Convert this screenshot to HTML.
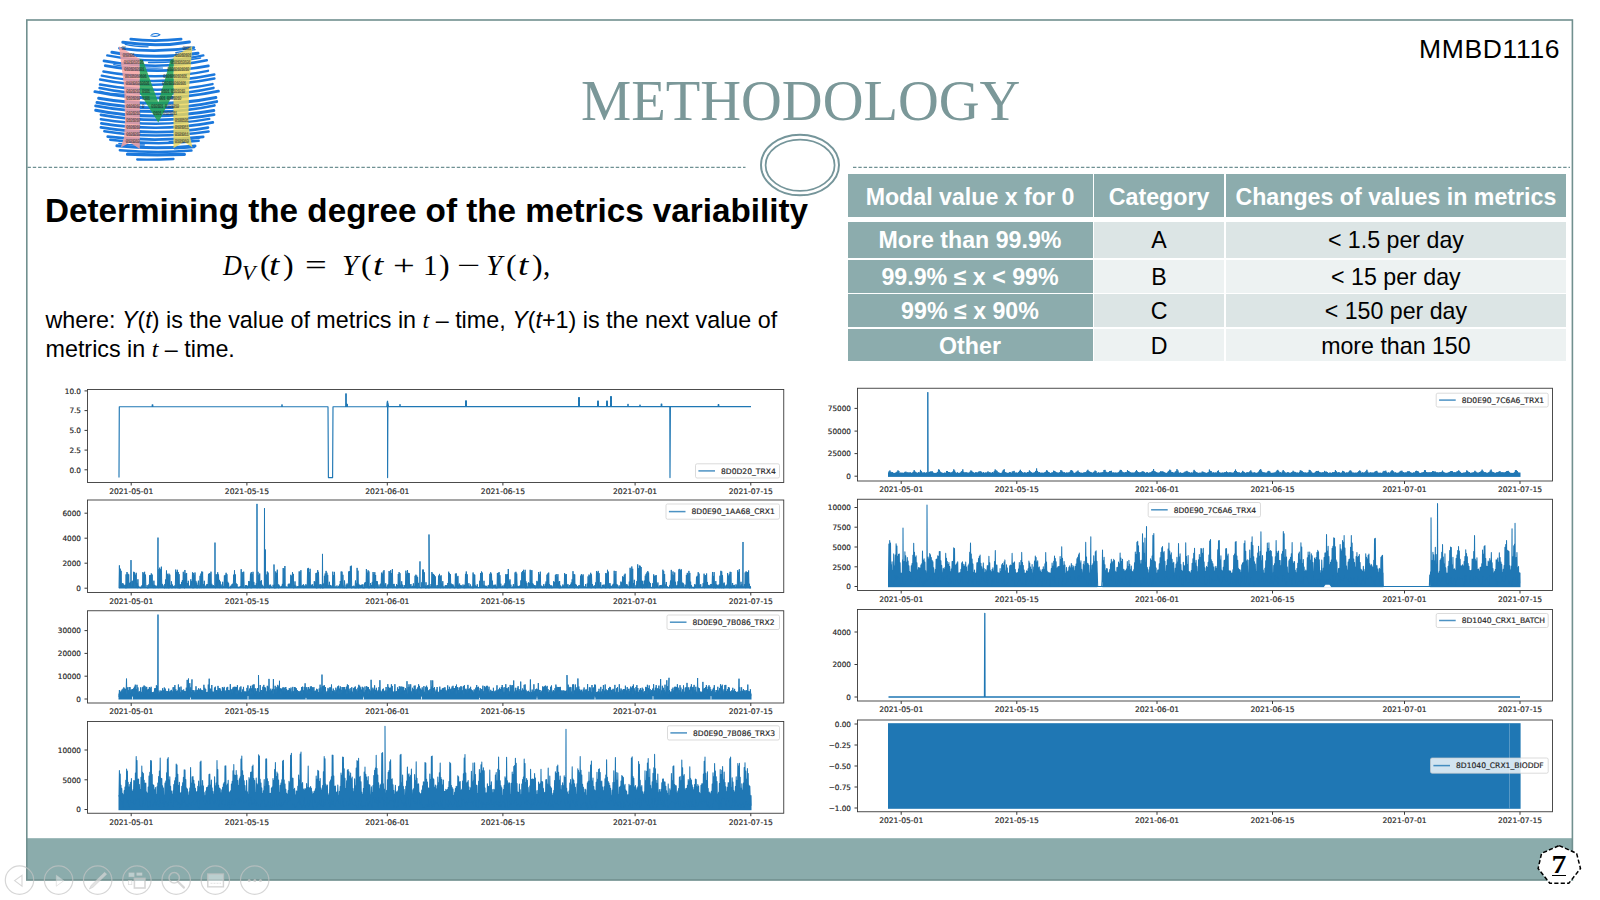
<!DOCTYPE html>
<html lang="en"><head><meta charset="utf-8"><title>Methodology</title>
<style>
html,body{margin:0;padding:0;background:#fff;}
body{width:1600px;height:900px;position:relative;overflow:hidden;font-family:"Liberation Sans",sans-serif;color:#000;}
.abs{position:absolute;white-space:nowrap;line-height:1;}
#bg{position:absolute;left:0;top:0;width:1600px;height:900px;}
#title{left:581px;top:72.6px;font-family:"Liberation Serif",serif;font-size:56.5px;color:#7b9899;letter-spacing:0px;}
#code{left:1419px;top:36px;font-size:26.5px;letter-spacing:0.65px;}
#h1{left:45px;top:194.4px;font-weight:bold;font-size:33.25px;}
#formula{left:0px;top:251px;font-family:"Liberation Serif",serif;font-style:italic;font-size:29px;}
#body1{left:45.5px;top:306px;font-size:23.32px;line-height:28.75px;white-space:normal;width:760px;}
#body1 i.m{font-family:"Liberation Serif",serif;font-size:24px;}
.tc{position:absolute;white-space:nowrap;text-align:center;font-size:23.2px;overflow:hidden;}
.tc.h{background:#8cacad;color:#fff;font-weight:bold;}
.tc.a{background:#dce5e5;}
.tc.b{background:#edf2f2;}
.tc span{position:relative;}
#formula span{position:absolute;top:0;font-style:normal;transform-origin:0 50%;}
#formula i{position:absolute;top:0;transform-origin:0 50%;}
#pg{left:1539.3px;top:852.2px;width:40px;text-align:center;font-family:"Liberation Serif",serif;font-weight:bold;font-size:25.5px;transform:scaleX(1.17);}
#pgu{left:1552.4px;top:874.8px;width:13.6px;height:1.1px;background:#000;}
</style></head><body>
<svg id="bg" width="1600" height="900" viewBox="0 0 1600 900">
<rect x="26.8" y="838.2" width="1545.6" height="42" fill="#8bacac"/>
<rect x="26.8" y="20" width="1545.6" height="860" fill="none" stroke="#71908f" stroke-width="1.6"/>
<path d="M27.5 167.4H745.5M853 167.4H1570" stroke="#6f9193" stroke-width="1.2" stroke-dasharray="3.4 1.9" fill="none"/>
<ellipse cx="800" cy="165" rx="39" ry="30.3" fill="#fff" stroke="#75959a" stroke-width="1.95"/>
<ellipse cx="800.1" cy="165.2" rx="34.5" ry="25.7" fill="none" stroke="#75959a" stroke-width="1.75"/>
<g id="logo"><path d="M151.8 34.5q4.5 -2 8 .3q-3 2.6 -9 1" fill="none" stroke="#1b78dc" stroke-width="1.1" stroke-linecap="round"/><path d="M130.8 39.2Q153.4 41.9 181.1 39.2" fill="none" stroke="#1b78dc" stroke-width="2.8" stroke-linecap="round"/><path d="M122.8 42.3Q157.6 47.4 189.4 41.9" fill="none" stroke="#1b78dc" stroke-width="3.0" stroke-linecap="round"/><path d="M125.2 44.3Q134.2 46.6 148.1 46.8" fill="none" stroke="#1b78dc" stroke-width="1.2" stroke-linecap="round"/><path d="M119.5 48.3Q156.7 53.2 193.8 47.6" fill="none" stroke="#1b78dc" stroke-width="2.8" stroke-linecap="round"/><path d="M175.8 52.6Q183.8 51.5 195.2 49.7" fill="none" stroke="#1b78dc" stroke-width="1.3" stroke-linecap="round"/><path d="M111.9 52.3Q151.0 59.9 198.0 53.3" fill="none" stroke="#1b78dc" stroke-width="3.0" stroke-linecap="round"/><path d="M177.6 56.5Q182.3 55.4 193.6 54.7" fill="none" stroke="#1b78dc" stroke-width="1.3" stroke-linecap="round"/><path d="M107.2 55.4Q157.7 65.4 203.4 55.4" fill="none" stroke="#1b78dc" stroke-width="2.3" stroke-linecap="round"/><path d="M148.6 62.5Q172.3 63.2 200.6 58.0" fill="none" stroke="#1b78dc" stroke-width="1.5" stroke-linecap="round"/><path d="M103.9 60.9Q158.2 70.8 206.8 60.3" fill="none" stroke="#1b78dc" stroke-width="2.6" stroke-linecap="round"/><path d="M113.7 64.7Q134.8 69.1 162.5 68.0" fill="none" stroke="#1b78dc" stroke-width="1.2" stroke-linecap="round"/><path d="M105.2 65.7Q157.4 75.6 208.4 65.9" fill="none" stroke="#1b78dc" stroke-width="2.7" stroke-linecap="round"/><path d="M103.4 71.5Q157.6 81.4 208.0 70.8" fill="none" stroke="#1b78dc" stroke-width="2.4" stroke-linecap="round"/><path d="M101.7 75.7Q154.3 86.9 214.4 74.5" fill="none" stroke="#1b78dc" stroke-width="2.3" stroke-linecap="round"/><path d="M100.1 79.5Q154.6 90.5 214.4 78.6" fill="none" stroke="#1b78dc" stroke-width="2.5" stroke-linecap="round"/><path d="M100.0 84.6Q159.6 95.2 212.5 84.1" fill="none" stroke="#1b78dc" stroke-width="2.5" stroke-linecap="round"/><path d="M99.6 88.0Q157.2 100.3 213.5 87.9" fill="none" stroke="#1b78dc" stroke-width="2.6" stroke-linecap="round"/><path d="M99.7 91.0Q108.8 93.6 125.6 94.4" fill="none" stroke="#1b78dc" stroke-width="1.1" stroke-linecap="round"/><path d="M94.9 91.7Q155.2 104.5 218.4 91.2" fill="none" stroke="#1b78dc" stroke-width="2.9" stroke-linecap="round"/><path d="M98.6 98.3Q159.6 108.8 215.9 97.5" fill="none" stroke="#1b78dc" stroke-width="2.9" stroke-linecap="round"/><path d="M97.0 102.5Q159.8 113.7 216.7 101.6" fill="none" stroke="#1b78dc" stroke-width="3.0" stroke-linecap="round"/><path d="M95.6 105.9Q159.0 117.6 214.4 105.5" fill="none" stroke="#1b78dc" stroke-width="2.8" stroke-linecap="round"/><path d="M95.7 110.3Q151.4 121.6 213.8 110.6" fill="none" stroke="#1b78dc" stroke-width="3.0" stroke-linecap="round"/><path d="M100.9 114.8Q158.5 124.9 214.1 114.7" fill="none" stroke="#1b78dc" stroke-width="2.7" stroke-linecap="round"/><path d="M100.8 119.2Q158.3 128.3 209.3 118.9" fill="none" stroke="#1b78dc" stroke-width="2.4" stroke-linecap="round"/><path d="M101.3 123.4Q159.5 132.5 212.9 122.4" fill="none" stroke="#1b78dc" stroke-width="2.6" stroke-linecap="round"/><path d="M100.9 127.4Q157.1 136.6 208.0 127.6" fill="none" stroke="#1b78dc" stroke-width="2.7" stroke-linecap="round"/><path d="M104.3 131.3Q154.1 139.7 208.6 131.5" fill="none" stroke="#1b78dc" stroke-width="2.5" stroke-linecap="round"/><path d="M107.7 136.7Q152.1 142.3 203.2 136.9" fill="none" stroke="#1b78dc" stroke-width="2.7" stroke-linecap="round"/><path d="M169.1 141.6Q184.1 140.8 199.8 138.2" fill="none" stroke="#1b78dc" stroke-width="1.2" stroke-linecap="round"/><path d="M110.3 139.8Q155.5 146.1 198.6 140.8" fill="none" stroke="#1b78dc" stroke-width="2.6" stroke-linecap="round"/><path d="M118.9 143.4Q133.3 145.6 144.3 144.9" fill="none" stroke="#1b78dc" stroke-width="1.5" stroke-linecap="round"/><path d="M116.9 145.8Q155.1 149.8 195.0 145.9" fill="none" stroke="#1b78dc" stroke-width="3.0" stroke-linecap="round"/><path d="M174.5 148.5Q183.4 148.0 194.2 147.2" fill="none" stroke="#1b78dc" stroke-width="1.9" stroke-linecap="round"/><path d="M119.8 150.2Q157.4 153.6 191.5 150.5" fill="none" stroke="#1b78dc" stroke-width="2.4" stroke-linecap="round"/><path d="M127.5 154.2Q156.2 155.3 184.4 154.3" fill="none" stroke="#1b78dc" stroke-width="3.2" stroke-linecap="round"/><path d="M137.2 159.5Q154.9 159.8 173.5 159.0" fill="none" stroke="#1b78dc" stroke-width="2.3" stroke-linecap="round"/><polygon points="118.9,46.3 139.8,58.9 139.8,149.0 130.0,142.5 120.8,147.6 124.2,136.7 125.0,120.0 124.2,86.7" fill="#f5a09e" fill-opacity="0.84"/><polygon points="192.3,46.0 173.5,56.7 173.5,148.3 184.0,141.7 192.5,147.5 190.0,136.7 188.3,120.0 189.2,86.7" fill="#ecd65c" fill-opacity="0.84"/><polygon points="139.8,58.9 143.0,60.2 158.3,102.5 170.4,60.2 173.5,58.6 173.5,93.0 158.3,122.5 139.8,93.0" fill="#22a050" fill-opacity="0.86"/><g font-family="Liberation Mono, monospace" font-size="4.7" font-weight="bold" fill="#222" fill-opacity="0.62" letter-spacing="-0.85" style="white-space:pre"><text x="121.5" y="50.2">01</text><text x="122.5" y="57.2">010101</text><text x="123.5" y="64.4">0101010101</text><text x="124.0" y="71.2">0101010101</text><text x="124.5" y="78.4">00101010101</text><text x="125.5" y="85.4">010101010101</text><text x="126.0" y="92.8">0101010 0101</text><text x="126.0" y="100.2">0101010  1101</text><text x="126.0" y="107.5">0101010    0</text><text x="126.0" y="114.7">0101010     </text><text x="126.0" y="122.0">0101010</text><text x="126.0" y="129.2">0101010</text><text x="126.0" y="136.4">0101010</text><text x="125.5" y="143.4">0101010</text><text x="182.5" y="50.2">0101</text><text x="175.0" y="57.2">01010101</text><text x="170.5" y="64.4">0101010101</text><text x="167.0" y="71.2">01010101010</text><text x="163.0" y="78.4">010101010101</text><text x="162.0" y="85.4">010101010101</text><text x="161.0" y="92.8">0101 0101010</text><text x="159.0" y="100.2">001   0101010</text><text x="151.0" y="107.5">010101  0101010</text><text x="153.0" y="114.7">0101   0101011</text><text x="174.5" y="122.0">0100101</text><text x="174.5" y="129.2">0101011</text><text x="174.5" y="136.4">0101011</text><text x="174.5" y="143.4">0101010</text></g></g>
<g><rect x="87.50" y="389.50" width="696.25" height="93.00" fill="#fff" stroke="none"/><g clip-path="none"><path d="M119 477.6l.3-70.9h32.9v-2h.6v2h129v-2h.4v2h45.8l.4 70.9h4.2l.4-70.9h12.7v-13h.6v13h.6v-2.4h.5v2.4h39.4l.4-4.7l.4-.8v76.4l.3-74.8l.7 3.9h11.2v-2h.4v2h65.4v-5.9h.8v5.9h112.2v-9.1h.8v9.1h18.2v-5.5h.8v5.5h8.2v-5.5h.8v5.5h3.2v-10.2h.8v10.2h16.4v-2.4h.4v2.4h11.6v-1.6h.4v1.6h21v-2.7h.6v2.7h8l.2 70.9l.4-70.9h47.8v-2h.6v2h32.2" fill="none" stroke="#1f77b4" stroke-width="1.15" stroke-linejoin="round"/></g><path d="M87.5 390.9h-3M87.5 410.6h-3M87.5 430.4h-3M87.5 450.1h-3M87.5 469.8h-3M131.2 482.5v3M246.9 482.5v3M387.3 482.5v3M502.9 482.5v3M635.1 482.5v3M750.8 482.5v3" stroke="#222" stroke-width="0.9" fill="none"/><rect x="87.50" y="389.50" width="696.25" height="93.00" fill="none" stroke="#3a3a3a" stroke-width="0.9"/><g font-family="DejaVu Sans, Liberation Sans, sans-serif" font-size="7.6" fill="#262626" stroke="#262626" stroke-width="0.18"><text x="81.0" y="393.7" text-anchor="end" font-size="7.3">10.0</text><text x="81.0" y="413.4" text-anchor="end" font-size="7.3">7.5</text><text x="81.0" y="433.1" text-anchor="end" font-size="7.3">5.0</text><text x="81.0" y="452.8" text-anchor="end" font-size="7.3">2.5</text><text x="81.0" y="472.5" text-anchor="end" font-size="7.3">0.0</text><text x="131.2" y="493.9" text-anchor="middle">2021-05-01</text><text x="246.9" y="493.9" text-anchor="middle">2021-05-15</text><text x="387.3" y="493.9" text-anchor="middle">2021-06-01</text><text x="502.9" y="493.9" text-anchor="middle">2021-06-15</text><text x="635.1" y="493.9" text-anchor="middle">2021-07-01</text><text x="750.8" y="493.9" text-anchor="middle">2021-07-15</text><rect x="695.5" y="463.8" width="84.0" height="14.2" rx="1.6" fill="#fff" fill-opacity="0.8" stroke="#ccc" stroke-width="0.7"/><path d="M698.4 470.9h16.6" stroke="#1f77b4" stroke-width="1.5" stroke-opacity="0.8"/><text x="721.0" y="473.7">8D0D20_TRX4</text></g></g>
<g><rect x="87.50" y="500.00" width="696.25" height="92.50" fill="#fff" stroke="none"/><g clip-path="none"><path d="M119 587.8H751" stroke="#1f77b4" stroke-width="1.6"/><path d="M119 588.2l.4-22.8l.4 22.5l.5-19.2l.4 19.3l.4-17.2l.4 17l.4-3.8l.5 3.9l.4-4.9l.4 4.5l.4-3.1l.4 3.5l.5-2.6l.4 2.1l.4-2.7l.4 3.5l.4-13.8l.5 13.7l.4-16.1l.4 15.9l.4-14.2l.4 13.9l.5-13.2l.4 13.1l.4-4.4l.4 4.8l.4-5.8l.5 5.9l.2-27.9l.2 27.3l.4 .4l.4-6.7l.4 6.3l.5-6.7l.4 6.9l.4-15.8l.4 15.6l.4-15l.5 15l.4-12.7l.4 13l.4-14.9l.4 15.1l.5-4.8l.4 5l.4-8.8l.4 8.6l.4-2l.5 1.6l.4-.6l.4 .5l.4-.3l.4 1.1l.5-1.9l.4 1.6l.4-2.8l.4 2.4l.4-15.4l.5 15.8l.4-14.6l.4 14.7l.4-16.2l.4 16.1l.5-13.3l.4 13.1l.4-.7l.4 1l.4-2.9l.5 3.1l.4-1.2l.4 1.1l.4-3.7l.4 3.5l.5-12.7l.4 12.8l.4-12.8l.4 12.8l.4-14.6l.5 14.6l.4-13.4l.4 13l.4-2.1l.4 2.6l.5-7.4l.4 7.2l.4-3l.4 3.2l.4-2.4l.5 1.8l.4-1.1l.4 1.2l.4-2.2l.4 2.5l.4-50.3l.1 50.3l.4-.1l.4-18.7l.4 18.9l.4-20.3l.5 20l.4-18.4l.4 18.5l.4-21.1l.4 20.7l.5-3.5l.4 4l.4-2.5l.4 2.4l.4-.5l.5 .9l.4-4.1l.4 4l.4-8.6l.4 8.2l.5-17.2l.4 17.7l.4-14.4l.4 13.8l.4-12.2l.5 12.8l.4-14.6l.4 14.5l.4-13.4l.4 13l.5-2.6l.4 2.3l.4-6l.4 6.8l.4-3.7l.5 3.5l.4-2.1l.4 1.9l.4-.8l.4 .8l.5-2.4l.4 2.7l.4-18.5l.4 17.9l.4-15.6l.5 15.8l.4-17.9l.4 18.3l.4-16.1l.4 16.1l.5-13.9l.4 14l.4-3.8l.4 3.8l.4-3.8l.5 3.5l.4-6l.4 5.6l.4-7.4l.4 7.5l.5-15.8l.4 15.6l.4-13.6l.4 14.4l.4-18.2l.5 17.7l.4-14.2l.4 14.4l.4-14.9l.4 14.9l.5-4.8l.4 4.8l.4-7.1l.4 6.7l.4-1.9l.5 2.2l.4-1.3l.4 1.1l.4-8.3l.4 8.7l.5-6.9l.4 6.5l.4-15.2l.4 15.8l.4-15.3l.5 15.2l.4-13.3l.4 12.9l.4-15.2l.4 15.2l.5-6.8l.4 6.7l.4-5l.4 5.6l.4-3.3l.5 2.6l.4-6.8l.4 7l.4-2.1l.4 2.5l.5-12.3l.4 11.9l.4-14.1l.4 14.5l.4-16.6l.5 15.9l.4-15.6l.4 16l.4-3.7l.4 4l.5-7.3l.4 6.8l.4-1l.4 .9l.4-1.9l.5 2.3l.4-3.6l.4 3.3l.4-3.5l.4 3.6l.5-13.6l.4 13.5l.4-14.4l.4 14.3l.4-13.9l.5 14.4l.4-16.3l.4 16.2l.4-4.1l.4 3.6l.5-2l.4 2.2l.4-2.4l.4 2.4l.4-1.6l.5 1.9l.2-45.3l.2 45.2l.4 .2l.4-13.6l.4 13.4l.5-13.4l.4 13.4l.4-15.5l.4 15.7l.4-13.5l.5 13.2l.4-7.8l.4 8.2l.4-6.6l.4 6.2l.5-3.2l.4 3.2l.4-1.2l.4 1.6l.4-6.3l.5 6.2l.4-1.8l.4 1.3l.4-12l.4 12.5l.5-13.1l.4 13.1l.4-15.2l.4 15.2l.4-13.8l.5 13.7l.4-6.1l.4 6.4l.4-5l.4 4.9l.5-1.1l.4 .7l.4-1.5l.4 2l.4-2.7l.5 1.9l.4-3.1l.4 3.5l.4-4.1l.4 3.7l.5-12.7l.4 13.3l.4-17.7l.4 17.1l.4-13l.5 13.2l.4-4.2l.4 4.3l.4-3.6l.4 3.7l.5-1.1l.4 1.4l.4-.8l.4 .4l.4-1l.5 1l.4-1.7l.4 1.9l.4-18.7l.4 18.7l.5-15.9l.4 15.9l.4-14.4l.4 14.6l.4-16.4l.5 15.8l.4-.6l.4 .5l.4-2.2l.4 3l.5-3.1l.4 2.8l.4-2.1l.4 2.4l.4-2.4l.5 2l.4-6.8l.4 6.7l.4-6.2l.4 6.1l.5-14l.4 14.6l.4-16.1l.4 16l.4-14.1l.5 14l.4-16.2l.4 15.9l.4-5.8l.4 5.5l.5-2.2l.4 2.6l.4-2.4l.4 2.3l.4-4.4l.5 4.8l.2-84.2l.2 83.8l.4 .1l.4-16l.4 16.1l.5-13l.4 12.5l.4-13.9l.4 14.7l.4-6.9l.5 6.6l.4-7.6l.4 7.4l.4-2.9l.4 2.7l.5-1.7l.4 1.6l.4-.6l.4 1.2l.2-79.8l.2 80l.5-.5l.1-38.2l.3 38.1l.4-.1l.4-12.9l.4 13.2l.5-16.3l.4 16.4l.4-15.3l.4 15l.4-1.3l.5 1.9l.4-3.4l.4 2.6l.4-2.7l.4 3l.5-1.2l.4 1l.4-.1l.4 .6l.4-3.2l.5 2.7l.4-2.3v-20.7l.4 23.7l.4-3.7l.4 3.7l.5-16.7l.4 16.6l.4-15.2l.4 15l.4-18.2l.5 18.3l.4-3.7l.4 3.9l.4-3.4l.4 3l.5-1.7l.4 1.3l.4-.3l.4 .8l.4-2l.5 2l.4-4l.4 3.8l.4-19.7l.4 19.9l.5-19.3l.4 18.8l.4-21.4l.4 21.7l.4-1.2l.5 1.2l.4-1.1l.4 1.3l.4-.5l.4 .2l.5-3.4l.4 3.5l.4-4.2l.4 4.5l.4-3.9l.5 3.7l.4-13l.4 13.2l.4-12.2l.4 11.8l.5-15.4l.4 15.3l.4-13.6l.4 14.3l.4-3.4l.5 2.7l.4-6.1l.4 6.4l.4-2.2l.4 2l.5-.9l.4 .9l.4-1.3l.4 1.2l.4-1.5l.5 1.7l.4-16.3l.4 16.4l.4-15.9l.4 15.5l.5-17.2l.4 17.7l.4-2.1l.4 1.7l.4-2.3l.5 2.5l.4-3.4l.4 3.8l.4-2.6l.4 2.2l.5-1.7l.4 1.4l.4-3.2l.4 3.7l.4-2.6l.5 2.3l.4-19.1l.4 19.4l.4-20l.4 20l.5-15.8l.4 15.6l.4-18.9l.4 19.1l.4-2.3l.5 1.8l.4-2.7l.4 3.2l.4-3.5l.4 3.4l.5-1.7l.4 1.6l.4-6.5l.4 6.3l.4-5.6l.5 5.8l.4-14.6l.4 15.1l.4-15.4l.4 15.3l.5-18l.4 17.8l.4-16l.4 15.7l.4-2.8l.5 2.7l.4-3.5l.4 4.2l.4-2.7l.4 2.4l.5-3.5l.4 3.5l.2-34l.2 34.3h.4l.4-4.6l.5 4l.4-11.8l.4 12.2l.4-14.5l.4 14l.5-16.6l.4 16.6l.4-14.8l.4 15l.4-12.8l.5 12.8l.4-2.4l.4 2.7l.4-6.2l.4 6l.5-2.8l.4 2.8l.4-1.4l.4 1.4l.4-2.3l.5 2.5l.4-16.3l.4 15.7l.4-12.2l.4 12.8l.5-16.1l.4 15.7l.4-1.1l.4 1.2l.4-1.2l.5 1l.4-2l.4 2.3l.4-.8l.4 .9l.5-2l.4 2l.4-3.4l.4 3.6l.4-7.1l.5 6.4l.4-15.9l.4 16.2l.4-16l.4 16.4l.5-13.3l.4 12.8l.4-1.9l.4 2.5l.4-7.7l.5 7.6l.4-1.2l.4 1l.4-3.2l.4 3.5l.5-4.7l.4 4.5l.4-3.4l.4 3.2l.4-16.3l.5 15.9l.4-16.3l.4 16.4l.4-21.2l.4 21.6l.5-22.2l.4 22.5l.4-2l.4 1.6l.4-1.3l.5 1l.4-1.8l.4 1.9l.4-1.1l.4 1.7l.5-7.7l.4 7.6l.4-4.7l.4 4.7l.4-20.2l.5 19.9l.4-17.1l.4 17.5l.4-4.3l.4 3.7l.5-2.6l.4 3.1l.4-2.7l.4 2.3l.4-2.9l.5 2.9l.4-3.1l.4 3.5l.4-3.7l.4 3.8l.5-1.1l.4 1.1l.4-5.5l.4 5.1l.4-5.8l.5 5.4l.4-18.3l.4 18.6l.4-15.1l.4 14.8l.5-17.1l.4 17.8l.4-16.7l.4 16.8l.4-1.9l.5 1.4l.4-4.7l.4 4.5l.4-2.5l.4 3.1l.5-6.2l.4 5.5l.4-15.4l.4 15.8l.4-13.8l.5 14.2l.4-16l.4 15.2l.4-12.4l.4 12.5l.5-6.5l.4 6.9l.4-6.6l.4 6.8l.4-1.6l.5 1.3l.4-3.3l.4 3.3l.4-.6l.4 .2l.5-3.7l.4 3.9l.4-14.9l.4 15.3l.4-14.4l.5 14.5l.4-16.6l.4 16.4l.4-17.7l.4 17.3l.5-2.7l.4 2.6l.4-4.1l.4 4.6l.4-1l.5 .5l.4-2.1l.4 2.9l.4-4.2l.4 3.9l.5-16.9l.4 16.6l.4-15.4l.4 15.8l.4-17.8l.5 17.3l.4-14.4l.4 14.4l.4-18.4l.4 19l.5-4l.4 3.6l.4-3.8l.4 3.9l.4-1.4l.5 1.4l.4-1.1l.4 1.2l.4-3.7l.4 4l.5-3.1l.4 2.8l.4-13.9l.4 13.8l.4-15.7l.5 15.9l.4-14.8l.4 14.8l.4-2.9l.4 3l.5-6.8l.4 6.1l.4-2.7l.4 3.4l.4-1.1l.5 1.2l.4-3.2l.4 2.9l.4-1.5l.4 1.5l.5-17.2l.4 16.8l.4-13.9l.4 14.6l.4-18.1l.5 17.8l.4-15l.4 15.2l.4-15l.4 14.9l.5-2.8l.4 2.8l.4-4l.4 3.5l.4-1l.5 1.4l.4-2l.4 1.6l.4-4.1l.4 4l.5-1.5l.4 1.6l.4-11.7l.4 11.9l.4-13l.5 13l.4-12.1l.4 12.6l.4-11.1l.4 10.3l.5-4.5l.4 4.9l.4-1.6l.4 1.3l.3-26.1l.1 26.4l.5-.1l.4-.7l.4 1.1l.4-5.8l.4 5.3l.5-18l.4 18.3l.4-18.2l.4 17.8l.4-15.2l.5 15.2l.4-2l.4 2.7l.4-5.9l.4 5.8l.5-2.3l.4 1.8l.4-2.4l.4 2.9l.4-3.3l.5 3.4v-53.7l.4 53l.4 .3l.4-1.3l.4 .9l.5-3.4l.4 3.6l.4-15.6l.4 15.4l.4-13.8l.5 13.9l.4-13.5l.4 14l.4-12.9l.4 12.9l.5-11.6l.4 11.3l.4-2.4l.4 2.2l.4-.2l.5 .3l.4-2.6l.4 3l.4-12.4l.4 11.8l.5-13.5l.4 13.9l.4-11.6l.4 12l.4-12.9l.5 12.1l.4-3.8l.4 4.1l.4-6.5l.4 7l.5-1.8l.4 1.5l.4-1.2l.4 1.2l.4-2.7l.5 2.9l.4-2.9l.4 2.8l.4-2.7l.4 2.8l.5-5.1l.4 4.9l.4-16.2l.4 15.7l.4-14.3l.5 15.1l.4-14l.4 13.2l.4-3.8l.4 4l.5-3.2l.4 3l.4-3l.4 3.3l.4-2.2l.5 2.7l.4-1.4l.4 1.3l.4-14.4l.4 13.8l.5-14.1l.4 14.1l.4-10.5l.4 11.2l.4-12.3l.5 12.3l.4-3.5l.4 2.7l.4-3.8l.4 4.6l.5-2.9l.4 2.4l.4-2.4l.4 2.6l.4-1.2l.5 .8l.4-3l.4 3.1l.4-1.9l.4 2.5l.5-3.4l.4 3.2l.4-14.1l.4 14.2l.4-16.6l.5 16.2l.4-13.4l.4 13.2l.4-1.2l.4 1.1l.5-4.2l.4 4.5l.4-1.2l.4 1.1l.4-3.1l.5 3.6l.4-1.4l.4 .9l.4-1.3l.4 1.9l.5-15.7l.4 15.6l.4-14l.4 13.9l.4-13.2l.5 12.7l.4-2.1l.4 2.3l.4-1.5l.4 1.4l.5-3.3l.4 3.1h.4l.4 .6l.4-.8l.5 .6l.4-7l.4 6.9l.4-14.7l.4 14.4l.5-15.9l.4 15.9l.4-14.8l.4 15.1l.4-2.9l.5 3l.4-7l.4 7.2l.4-2.6l.4 2.7l.5-2.2l.4 1.8l.4-1.8l.4 2.2l.4-1.2l.5 1l.4-2.6l.4 2.6l.4-3l.4 3.1l.5-14.2l.4 14.3l.4-15.8l.4 15.5l.4-14.1l.5 14.5l.4-7.5l.4 7.5l.4-2.8l.4 2.6l.5-3.2l.4 2.6l.4-2.5l.4 3.2l.4-3.4l.5 3.5l.4-1.7l.4 1.7l.4-15.1l.4 14.6l.5-14.9l.4 14.6l.4-15.3l.4 15.5l.4-12.4l.5 12.3l.4-3.8l.4 3.8l.4-.9l.4 1l.5-1.9l.4 2.1l.4-1.2l.4 1l.4-2.8l.5 2.8l.4-4.3l.4 4.3l.4-13.4l.4 13.5l.5-13.2l.4 13.7l.4-14.1l.4 13.6l.4-18.7l.5 18.8l.4-7l.4 6.9l.4-8.3l.4 8l.5-2.7l.4 3.3l.4-.7l.4 .2l.4-.9l.5 1l.4-3.4l.4 3.9l.4-1.7l.4 1.5l.5-15.4l.4 15l.4-15.7l.4 16.2l.4-14.4l.5 13.9l.4-1.7l.4 1.9l.4-1.4l.4 1.2l.5-1.5l.4 1.8l.4-2.5l.4 2.7l.4-7.6l.5 7.4l.4-15.5l.4 15.3l.4-16.6l.4 16.6l.5-17.8l.4 17.7l.4-15l.4 15.2l.4-17.9l.5 18.4l.4-6.8l.4 6.4l.4-4.7l.4 5l.5-1.6l.4 1.1l.4-5.2l.4 5l.4-4.4l.5 4.5l.4-17.7l.4 18.3l.4-17.5l.4 16.9l.5-17.3l.4 17.8l.4-4.8l.4 4.7l.4-3.4l.5 3.1l.4-2.4l.4 2.9l.4-2.8l.4 2.9l.5-1.4l.4 .7l.4-6.6l.4 7.1l.4-6.3l.5 6.4l.4-16.1l.4 15.9l.4-13.5l.4 13.5l.5-16.2l.4 15.8l.4-2l.4 2.5l.4-2l.5 2.1l.4-1.5l.4 .9l.4-3.2l.4 3.8l.5-2.2l.4 1.9l.4-4l.4 3.6l.4-5.9l.5 6.7l.4-13.5l.4 13.1l.4-14.3l.4 14.3l.5-15.2l.4 15.6l.4-4.2l.4 3.5l.4-2.1l.5 2.7l.4-2.7l.4 2.7l.4-2.4l.4 2.4l.5-1.2l.4 1.1l.4-6.8l.4 6.5l.4-5.5l.5 5.5l.4-12.6l.4 12.3l.4-13.3l.4 13.6l.5-11l.4 11.3l.4-13.8l.4 13.2l.4-5.7l.5 6.5l.4-7.2l.4 7.1l.4-2.6l.4 2.6l.5-.8l.4 .3l.4-1.7l.4 1.8l.4-3.2l.5 3.2l.4-2.2l.4 2.5l.4-14.9l.4 14.9l.5-13.5l.4 13l.4-13.4l.4 13.5l.4-3l.5 3.2l.4-3.6l.4 3.8l.4-.5h.4l.5-2.5l.4 2.6l.4-3.2l.4 3.5l.4-5.4l.5 5.2l.4-8.4l.4 8.7l.4-16.8l.4 16.2l.5-13.4l.4 14.2l.4-13.7l.4 13.2l.4-3.7l.5 3.4l.4-2.6l.4 2.7l.4-1.2l.4 1.1l.5-1l.4 1.8l.4-3l.4 2.8l.4-2.7l.5 2.2l.4-11.8l.4 12.1l.4-13.6l.4 13.4l.5-12l.4 12.2l.4-13.4l.4 13.3l.4-1.5l.5 1.7l.4-1.4l.4 1.4l.4-3.8l.4 3.7l.5-.7l.4 .8l.4-4.4l.4 4.2l.4-11.3l.5 11.5l.4-13.3l.4 12.9l.4-12l.4 11.9l.5-14.6l.4 15.4l.4-13.8l.4 13.4l.4-3.8l.5 3.5l.4-1.7l.4 1.7h.4h.4l.5-2.4l.4 3.1l.4-5.8l.4 5l.4-16.4l.5 16.6l.4-15.1l.4 15.5l.4-17.1l.4 16.6l.5-14.3l.4 14.7l.4-2.8l.4 2.9l.4-5.8l.5 6l.4-.8l.4 .7l.4-3.2l.4 2.9l.5-2.9l.4 2.7l.4-3.1l.4 3.2l.4-1.9l.5 2.4l.4-15.2l.4 15.1l.4-14.5l.4 14.4l.5-18.2l.4 17.6l.4-15.8l.4 16.3l.4-4.5l.5 4.8l.4-5l.4 4.9l.4-2.4l.4 1.8l.5-1.4l.4 1.5l.4-2.8l.4 2.6l.4-3.6l.5 4.2l.4-17.2l.4 17l.4-13.6l.4 13.5l.5-16.7l.4 16.4l.4-3.3l.4 3.9l.4-3.2l.5 3.2l.4-1.2l.4 .6l.4-2l.4 2.8l.5-1l.4 .9l.4-6.5l.4 6.4l.4-5.6l.5 5.7l.4-11.7l.4 11l.4-10.5l.4 10.9l.5-13l.4 13.2l.4-14.3l.4 13.8l.4-2.3l.5 2.8l.4-4l.4 3.8l.4-2.4l.4 2.2l.5-1.2l.4 1l.4-5.8l.4 6.6l.4-20.4l.5 20l.4-18.2l.4 17.9l.4-21l.4 21.3l.5-19l.4 19.3l.4-5.1l.4 4.7l.4-7.9l.5 7.9l.4-.3l.4 .2l.4-2.4l.4 2.5l.5-6.6l.4 6.4l.4-23.1l.4 23.3l.4-19.4l.5 19.5l.4-22.2l.4 22.1l.4-21.9l.4 22.2l.5-21l.4 21l.4-7.4l.4 7.6l.4-7.2l.5 6.6l.4-3.2l.4 3.4l.4-7.2l.4 7.5l.5-12.4l.4 12.1l.4-13.9l.4 14l.4-15.4l.5 15.1l.4-16.5l.4 16.9l.4-15.4l.4 15.1l.5-5.9l.4 5.9l.4-4.6l.4 4.4l.4-.1l.5 .2l.4-.7l.4 1.2l.4-4.9l.4 4.7l.5-13.5l.4 13.8l.4-12.3l.4 12.1l.4-12.4l.5 12l.4-12.5l.4 12.8l.4-3.5l.4 3.2l.5-5.1l.4 5.2l.4-.9l.4 1.3l.4-2.5l.5 2.3l.4-2.8l.4 3l.4-2.9l.4 2.7l.5-3.1l.4 3.3l.4-18.4l.4 18.1l.4-16.8l.5 16.5l.4-13.4l.4 13.7l.4-3.2l.4 3.4l.5-6l.4 6l.4-1.9l.4 1.8l.4-.9l.5 1l.4-.5l.4 .3l.4-2.4l.4 2l.5-6.8l.4 7.4l.4-18.1l.4 18.3l.4-13.8l.5 13.4l.4-16.3l.4 16.2l.4-12.6l.4 12.8l.5-15.4l.4 15.4l.4-6.1l.4 5.8l.4-2l.5 2.2l.4-2.7l.4 2.5l.4-6.3l.4 6.1l.5-18l.4 18.5l.4-19l.4 18.8l.4-17.4l.5 17.4l.4-18.3l.4 18.2l.4-5l.4 5l.5-4.7l.4 4.7l.4-3.2l.4 3.4l.4-.8l.5 .5l.4-2.7l.4 3.3l.4-13.2l.4 13l.5-15l.4 14.6l.4-13.3l.4 13.7l.4-17l.5 17.3l.4-15.3l.4 15.2l.4-6.4l.4 6.3l.5-2.7l.4 2.9l.4-1.4l.4 .8l.4-.5l.5 1.1l.4-1.5l.4 1.5l.4-4.1l.4 3.5l.5-2.7l.4 3.1l.4-11.2l.4 10.8l.4-11.8l.5 12l.4-15.6l.4 15.8l.4-14.4l.4 14.3l.5-3l.4 3l.4-3.7l.4 3.6l.4-.4l.5 .1l.4-.8l.4 1.2l.4-4.8l.4 4.6l.5-14l.4 14.4l.4-12.6l.4 12.2l.4-12.6l.5 12.9l.4-14.5l.4 13.9l.4-5.3l.4 5.7l.5-2.8l.4 2.8l.4-2.9l.4 3.1l.4-2l.5 1.9l.4-3.9l.4 3.7l.4-3.6l.4 3.3l.5-15.4l.4 16l.4-12.1l.4 12.3l.4-16.1l.5 15.8l.4-2.7l.4 3l.4-7.1l.4 7l.5-3.7l.4 3.5l.4-2.5l.4 2.5l.4-2.6l.5 2.8l.4-4l.4 4l.4-12.4l.4 12.1l.5-17l.4 17.4l.4-16.8l.4 16.6l.4-12.8l.5 13l.4-4.7l.4 4.7l.4-5.6l.4 5.2l.5-.9l.4 .6l.4-2l.4 2.1l.4-2.9l.5 2.9l.4-14.6l.4 14.6l.4-12l.4 11.8l.5-13.2l.4 14l.4-16.4l.4 16.2l.4-16l.5 16.1l.4-2.4l.4 2.1l.4-4.8l.4 4.7l.5-2.4l.4 2.6l.4-3l.4 2.9l.4-.8l.5 .7l.4-3.4l.4 3.5l.4-2.5l.4 2.7l.5-17.8l.4 17.5l.4-15.8l.4 16l.4-18.7l.5 18.3l.4-2l.4 2.3l.4-6l.4 6.1l.5-3.6l.4 3.7l.4-2.2l.3-43.8l.1 46l.4-1.5l.5 1.1l.4-3.4l.4 3.3l.4-15l.4 15.6l.5-16.7l.4 16l.4-15.4l.4 16l.4-15.8l.5 15.3l.4-17l.4 17.2l.4-3.9l.4 4.4l.5-2l.4 2" fill="none" stroke="#1f77b4" stroke-width="1.0" stroke-linejoin="round"/></g><path d="M87.5 513.2h-3M87.5 538.2h-3M87.5 563.2h-3M87.5 588.2h-3M131.2 592.5v3M246.9 592.5v3M387.3 592.5v3M502.9 592.5v3M635.1 592.5v3M750.8 592.5v3" stroke="#222" stroke-width="0.9" fill="none"/><rect x="87.50" y="500.00" width="696.25" height="92.50" fill="none" stroke="#3a3a3a" stroke-width="0.9"/><g font-family="DejaVu Sans, Liberation Sans, sans-serif" font-size="7.6" fill="#262626" stroke="#262626" stroke-width="0.18"><text x="81.0" y="516.0" text-anchor="end" font-size="7.3">6000</text><text x="81.0" y="541.0" text-anchor="end" font-size="7.3">4000</text><text x="81.0" y="566.0" text-anchor="end" font-size="7.3">2000</text><text x="81.0" y="591.0" text-anchor="end" font-size="7.3">0</text><text x="131.2" y="603.9" text-anchor="middle">2021-05-01</text><text x="246.9" y="603.9" text-anchor="middle">2021-05-15</text><text x="387.3" y="603.9" text-anchor="middle">2021-06-01</text><text x="502.9" y="603.9" text-anchor="middle">2021-06-15</text><text x="635.1" y="603.9" text-anchor="middle">2021-07-01</text><text x="750.8" y="603.9" text-anchor="middle">2021-07-15</text><rect x="666.0" y="504.0" width="113.5" height="15.2" rx="1.6" fill="#fff" fill-opacity="0.8" stroke="#ccc" stroke-width="0.7"/><path d="M668.9 511.6h16.6" stroke="#1f77b4" stroke-width="1.5" stroke-opacity="0.8"/><text x="691.5" y="514.4">8D0E90_1AA68_CRX1</text></g></g>
<g><rect x="87.50" y="610.75" width="696.25" height="92.25" fill="#fff" stroke="none"/><g clip-path="none"><rect x="118.5" y="693.6" width="633" height="5.9" fill="#1f77b4"/><path d="M132.5 699.7v-3.6M190.5 699.7v-3.6M248.0 699.7v-3.6M306.0 699.7v-3.6M363.5 699.7v-3.6M421.5 699.7v-3.6M479.5 699.7v-3.6M537.0 699.7v-3.6M595.0 699.7v-3.6M653.0 699.7v-3.6M711.0 699.7v-3.6" stroke="#fff" stroke-width="0.9" stroke-opacity="0.85"/><path d="M119 697l.4-6.9l.5 5.7l.4-4l.5 6l.4-7.1l.4 6.4l.5-7.5l.4 5.4l.5-6.3l.4 8.6l.4-9.9l.5 8.7l.4-7.6l.5 9.1l.4-8.7l.4 7.9l.5-18.2l.4 17.6l.5-8.8l.4 8l.4-5.4l.5 5.1l.4-8.1l.5 7.9l.4-7.8l.4 10l.5-7.3l.4 5.9l.5-6.3l.4 7.1l.4-7.5l.5 6.9l.4-7.5l.5 6.3l.4-8l.4 8.9l.5-10.9l.4 9.9l.5-5.6l.4 6.4l.4-10.6l.5 11.1l.4-8.5l.5 7.5l.4-3.2l.4 3.4l.5-3.8l.4 5.6l.5-9.5l.4 10.3l.4-5.8l.5 3.5l.4-8.1l.5 7.2l.4-7.8l.4 10.1l.5-11.3l.4 12.3l.5-11.6l.4 9.6l.4-8.3l.5 7.4l.4-8l.5 7.9l.4-5.2l.4 6.5l.5-7.2l.4 7l.5-8.9l.4 9.1l.4-7.9l.5 8.8l.4-10.2l.5 9.3l.4-4l.4 4.3l.5-4.3l.4 3.7l.5-4l.4 3.9l.4-7.3l.5 8.3l.4-8.6l.5 9.7l.4-12.5l.4 9.3l.5-8.6l.4 9.8l.3-81.2l.2 82.2l.4-.2l.4-6.1l.5 6.1l.4-4.6l.5 3.9l.4-5.4l.4 6.6l.5-6.2l.4 6.3l.5-8.9l.4 9.2l.4-7.2l.5 4.7l.4-7.5l.5 9.8l.4-8.7l.4 6.2l.5-3.9l.4 6.5l.5-6.3l.4 4l.4-3.9l.5 5.7l.4-8.3l.5 6.5l.4-3.6l.4 5.4l.5-6.2l.4 6l.5-6.8l.4 6.6l.4-5.2l.5 6.5l.4-10.5l.5 7.2l.4-7.5l.4 7.7l.5-9.6l.4 9.9l.5-5.7l.4 7.6l.4-6l.5 6.7l.4-7l.5 4.5l.4-10.6l.4 11l.5-8.2l.4 7.5l.5-2.7l.4 3.2l.4-8.7l.5 9l.4-5.7l.5 4.7l.4-4.3l.4 6.7l.5-7.5l.4 5.7l.5-4.1l.4 4.9l.4-4.8l.5 4l.4-7.5l.5 7.3l.4-15.1l.4 15l.5-8.2l.4-8.2v17.6l.5-6.5l.4 5.6l.4-12l.5 14.2l.4-10l.5 7.1l.4-2.8l.4-12.3v17.4l.5-6.6l.4 5.4l.5-5.4l.4 7l.4-5.7l.5 4.5l.4-5.9l.5 7.5l.4-11.3l.4 9.5l.5-5.7l.4 5l.5-5.3l.4 6.8l.4-8.3l.5 8.1l.4-6.8l.5 7.4l.4-8.6l.4 9.2l.5-7.8l.4 5.1l.5-4.8l.4 4.7l.4-4.1l.5 5.6l.4-11.5l.5 10.8l.4-7.8l.4 7.8l.5-6.5l.4 8.4l.5-5.4l.4 5.3l.4-5.5l.5 5.6l.4-12.9l.5 12.6l.4-18.5l.4 18.7l.5-8.9l.4 6.5l.5-6l.4 6.1l.4-10.1l.5 11.1l.4-4.5l.5 3.7l.4-3.5l.4 5l.5-9.2l.4 9.4l.5-10.3l.4 9.1l.4-5.8l.5 6.6l.4-6.4l.5 6.2l.4-10.5l.4 8.6l.5-6.4l.4 9.2l.5-9.3l.4 7.6l.4-6.1l.5 6.2l.4-4.4l.5 6.2l.4-10.4l.4 9l.5-7.9l.4 9l.5-10.3l.4 9l.4-5l.5 4.6l.4-5l.5 4.9l.4-7.9l.4 8.4l.5-9l.4 10.9l.5-7.7l.4 7.2l.4-6.9l.5 4.8l.4-11l.5 12l.4-6.6l.4 5.4l.5-5.9l.4 7.1l.5-8.7l.4 9l.4-9.6l.5 9.4l.4-9.5l.5 8.6l.4-8.5l.4 8l.5-7.9l.4 10l.5-11.8l.4 9.7l.4-4.1l.5 4.1l.4-5.1l.5 5.6l.4-8.1l.4 7.7l.5-8.6l.4 9.5l.5-3.8l.4 4.6l.4-7.2l.5 7.6l.4-10.2l.5 9.6l.4-5l.4 5.4l.5-5.4l.4 3.3l.5-3.2l.4 3l.4-6.7l.5 7.4l.4-10l.5 10.3l.4-4.9l.4 4.6l.5-6.8l.4 7.5l.5-10.1l.4 10.8l.4-8.3l.5 7.5l.4-10.5l.5 10.3l.4-11.1l.4 11l.5-11.2l.4 13l.5-9.2l.4 7.6l.4-7.2l.5 7.7l.4-5.1l.5 6.4l.4-9.6l.4 8l.5-5.8v-15.1l.4 21.4l.5-4.6l.4 4.2l.4-11.1l.5 11.6l.4-6.6l.5 6l.4-5.8l.4 4.8l.5-8.3l.4 10.8l.5-12.6l.4 10.5l.4-8.4l.5 9.4l.4-8.7l.5 7.6l.4-3.9l.4 5.1l.5-10.7l.4 10.1l.5-9.2l.4 8.5l.4-16.3l.5 15.9l.4-4.7l.5 5.9l.4-7.3l.4 5.8l.5-4l.4 4.4l.5-6l.4 6.5l.4-16.3l.5 16.5l.4-6.3l.5 7l.4-10.5l.4 11.9l.5-9.1l.4 7.7l.5-9.4l.4 7.9l.4-9.9l.5 10.8l.4-9.3l.5 10.7l.3-16.3l.1 13.9l.4 2.1l.5-8.4l.4 9l.5-8.5l.4 5.8l.4-6.6l.5 8.6l.4-9.6l.5 7.8l.4-6.9l.4 8.2l.5-8.7l.4 10.1l.5-10.6l.4 9.2l.4-7l.5 7.2l.4-5.9l.5 5.8l.4-6.3l.4 7.2l.5-9l.4 8.4l.5-7.3l.4 6.5l.4-8.2l.5 9.5l.4-5.7l.5 4.9l.4-9.4l.4 10.4l.5-6.1l.4 6.6l.5-10.8l.4 9.2l.4-8.7l.5 8.8l.4-8l.5 9.4l.4-7.7l.4 7.8l.5-6.8l.4 6.5l.5-6.2l.4 4.4l.4-4.2l.5 6.2l.4-7l.5 4.5l.4-8.1l.4 9.7l.5-10.1l.4 8.4l.5-4.8l.4 7.2l.4-10.6l.5 8.9l.4-12.5l.5 14.3l.4-10.1l.4 10.2l.5-10.5l.4 10l.5-7.6l.4 5.5l.4-8.1l.5 10.7l.4-8.9l.5 5.8l.4-8l.4 8.4l.5-8.7l.4 10.4l.5-9.6l.4 10.2l.4-9.2l.5 6.9l.4-7.9l.5 9.5l.4-5.7l.4 4.3l.5-4.5l.4 6.6l.5-8.5l.4 6.6l.4-5.9l.5 7.8l.4-5.3l.5 4.3l.4-7.8l.4 9l.5-12.8l.4 11l.5-8.3l.4 8.9l.4-8.2l.2-13.5l.3 22l.4-10.4l.5 8.4l.4-8.9l.4 11.8l.5-12.1l.4 11.6l.5-9.9l.4 8.6l.4-3.6l.5 5l.4-6.1l.5 4.9l.4-8l.4 7.9l.5-6.6l.4 8l.5-9.9l.4 7.7l.4-7.5l.5 7.1l.4-10.1l.5 13.1l.4-6.7l.4 4.1l.5-6.4l.4 6.7l.5-5l.4 5.5l.4-4.2l.5 3.4l.4-7.3l.5 9.5l.4-7.6l.4 5.8l.5-9l.4 9.8l.5-10.5l.4 9.6l.4-6.7l.5 7.2l.4-9.4l.5 8.1l.4-4.7l.4 7.8l.5-10.6l.4 7.7l.5-7.3l.4 7.1l.4-7.4l.5 8.9l.4-9l.5 7.8l.4-5.3l.4 5.7l.5-8.5l.4 8l.5-10.3l.4 12.8l.4-12.1l.5 11.8l.4-8.2l.5 9l.4-7.1l.4 5.8l.5-8.3l.4 7.2l.5-8.1l.4 9.6l.4-5.1l.5 5.6l.4-9l.5 6.2l.4-7.1l.4 9.2l.5-10.1l.4 9.8l.5-7.1l.4 7.4l.4-6l.5 5.7l.4-8.6l.5 9.1l.4-12l.4 13l.5-12l.4 10.2l.5-8.6l.4 9.8l.4-7.6l.5 4.9l.4-7.7l.5 10.9l.4-10.1l.4 8.8l.5-4.5l.4 4.1l.5-9.5l.4 10.5l.4-7.1l.5 7.1l.4-10.9l.5 9.6l.4-8.5l.4 7.9l.5-8l.4 8.2l.5-5.9l.4 5.6l.4-4.4l.5 6.7l.4-17.5l.5 15l.4-5.2l.4 6l.5-7.9l.4 8.1l.5-6.5l.4 8l.4-12l.5 9.2l.4-4.6l.5 6.8l.4-8.9l.4 8.5l.5-5l.4 5.5l.5-6.9l.4 5l.4-7.8l.5 8.7l.4-15.6l.5 15.8l.4-5.4l.4 4.8l.5-3.8l.4 4l.5-6.3l.4 5.5l.4-6.2l.5 8.6l.4-6l.5 5.3l.4-6.1l.4 6.5l.5-9.9l.4 9.8l.5-6.2l.4 6.8l.4-13.2l.5 13.4l.4-10.7l.5 10.7l.4-9.5l.4 6.9l.5-7.3l.4 10.1l.5-13.5l.4 13.3l.4-11.7l.5 11l.4-5l.5 5.2l.4-5.7l.4 3.4l.5-10.6l.4 11.4l.5-4.2l.4 6.3l.4-6.5l.5 6l.4-9.8l.5 10.3l.4-8.5l.4 7.4l.5-10.3l.4 8.2l.5-7.3l.4 10.2l.4-11l.5 8.3l.4-7.8l.5 7.7l.4-7.8l.4 10.2l.5-10l.4 9.2l.5-5.8l.4 7.4l.4-9.7l.5 7.1l.4-5.6l.5 6.4l.2-14.8l.2 13.8l.4 2.2l.5-10.1l.4 7.9l.5-10.7l.4 10.7l.4-8.3l.5 10.5l.4-12.9l.5 12.2l.4-5l.4 6.3l.5-10l.4 6.7l.5-5.2l.4 5.9l.4-9.4l.5 10.6l.4-10.9l.5 11.3l.4-6.7l.4 6.7l.5-7.9l.4 5.6l.5-7.1l.4 7.6l.4-10.7l.5 12.6l.4-11l.5 9.5l.4-6.8l.4 8.3l.5-7.2l.4 6.5l.5-8.8l.4 7.1l.4-4.8l.5 6l.4-9.6l.5 8.9l.4-3.2l.4 3.1l.5-8.1l.4 9.8l.5-10.9l.4 9.1l.4-7.4l.5 8l.4-4.9l.5 5.6l.4-6l.4 5.5l.5-6.6l.4 8.4l.5-11.1v-6l.4 17.1l.4-10.9l.5 10.4l.4-16.5l.5 14.3l.4-6.6l.4 6.9l.5-7.8l.4 9.2l.5-4.9l.4 3.4l.4-5.3l.5 5.2l.4-7.8l.5 8l.4-3.3l.4 6.1l.5-5.7l.4 2.9l.5-8.3l.4 9.8l.4-6.7l.5 5.9l.4-5.9l.5 7.7l.4-9.1l.4 9.2l.5-9.6l.4 6.5l.5-6.9l.4 8.6l.4-8.9l.5 7.7l.4-5.1l.5 6l.4-4.8l.4 5.4l.5-11.1l.4 12.4l.5-8.5l.4 6.6l.4-9.1l.5 9.5l.4-7.1l.5 7.7l.4-8.4l.4 7.6l.5-9.5l.4 8.2l.5-9l.4 9.9l.4-7.7l.5 6.7l.4-6.6l.5 9.1l.4-11.1l.4 10.7l.5-12.2l.4 12.5l.5-10.1l.4 10.5l.4-7.5l.5 7.1l.4-9.6l.5 8.7l.4-8.7l.4 7.5l.5-8.8l.4 10.3l.5-9.8l.4 10.3l.4-6.7l.5 7.2l.4-11.4l.5 9.8l.4-10.7l.4 11.9l.5-8.3l.4 8.5l.5-7.3l.4 6l.4-7.3l.5 7.6l.4-11.4l.5 10l.4-5.9l.4 7.9l.5-8.5l.4 8.7l.5-10.3l.4 9.9l.4-7.2l.5 7.7l.4-6.9l.5 5.1l.4-3.8l.4 4.5l.5-6.6l.4 6.5l.5-6.3l.4 6.5l.4-8.5l.5 9.5l.4-12.2l.5 11l.4-8.7l.4 7.5l.5-8l.4 8.2l.5-4.4l.4 7.2l.4-9.7l.5 8.6l.4-7.6l.5 7.9l.4-7.9l.4 7.4l.5-10.8l.4 11.1l.5-5.6l.4 5.3l.4-10.3l.5 9.7l.4-8.5l.5 8.8l.4-10.3l.4 11.4l.5-11.5l.4 8.9l.5-5.4l.4 7.2l.4-9.8l.5 10.1l.4-5.3l.5 3.1l.4-4.8l.4 7.2l.5-5.9l.4 4.8l.5-4.8l.4 6l.4-9.3l.5 7.6l.4-3.8l.5 3.9l.4-4.6l.4 5.4l.5-5.9l.4 4.9l.5-10l.4 11.6l.4-6.8l.5 4.8l.4-5.5l.5 6.1l.4-7.7l.4 9.2l.5-8l.4 7.5l.5-9.5l.4 8.7l.4-10.7l.5 11.1l.4-8.6l.5 7.9l.4-3.5l.4 4.1l.5-8.9l.4 10.1l.5-13l.4 11.1l.4-7.2l.5 9.2l.4-8.8l.5 7.3l.4-8.7l.4 8.6l.5-4.3l.4 6.4l.5-12.9l.4 11.6l.4-9.8l.5 9.1l.4-10.6l.5 12.7l.4-12.7l.4 12.1l.5-16.8l.4 16.2l.5-5.1l.4 3.5l.4-7.3l.5 8.5l.4-5.9l.5 6.7l.4-9.3l.4 8.9l.5-10.5l.4 11.3l.5-8.5l.4 7l.4-5.4l.5 7.2l.4-16.2l.5 15.6l.4-6.5l.4 4.6l.5-6.8l.4 6.8l.5-5.5l.4 7l.4-11.9l.5 11.2l.4-11.7l.5 11.5l.4-6.1l.4 7.6l.5-6.2l.4 5.4l.5-5.1l.4 4.7l.4-5.4l.5 3.9l.4-2.6l.5 4.1l.4-16.7l.4 15.4l.5-3l.4 3.7l.5-6l.4 7.2l.4-5.4l.5 4.3l.4-11.4l.5 13.4l.4-6.6l.4 6.5l.5-8.3l.4 5.9l.5-6.5l.4 8.9l.4-8.2l.5 5.2l.4-11.5l.5 12.4l.4-5.6l.4 5.5l.5-5.4l.4 6.3l.5-4.3l.4 4.8l.4-6.1l.5 5.5l.4-9.8l.5 9.2l.4-8.7l.4 9.3l.5-9.8l.4 11.3l.5-12.1l.4 10.2l.4-8.8l.5 10.5l.4-11.6l.5 11.1l.4-7.9l.4 7.6l.5-4.8l.4 3.5l.5-5.2l.4 5.2l.4-8.6l.5 10.3l.4-11.6l.5 10.2l.4-4.1l.4 3.6l.5-5.1l.4 6l.5-5l.4 5.4l.4-8.3l.5 6.5l.4-10.1l.5 10.5l.4-8.3l.4 10.6l.5-10.2l.4 10.2l.5-10.4l.4 9.9l.4-9.7l.5 9.2l.4-9.5l.5 8.1l.4-4.6l.4 5.9l.5-5.5l.4 7l.5-7.4l.4 6.1l.4-5.9l.5 7l.4-6.8l.5 6.3l.4-6.2l.4 3.9l.5-4.3l.4 6.6l.1-22l.4 21.4l.4-.4l.4-11.4l.5 10l.4-7l.5 9.9l.4-10.7l.4 10.4l.5-10.1l.4 7.5l.5-3.2l.4 4.9l.4-11.9l.5 12.5l.4-12.6l.5 12.8l.4-6.7l.4 5.1l.5-11.1l.4 12l.5-7.9l.4 7.2l.4-8.6l.5 8.7l.4-17.4l.5 18.2l.4-10.2l.4 11l.5-8.3l.4 7.3l.5-5.9l.4 5.6l.4-6.4l.5 5.4l.4-3.7l.5 5.8l.4-7.8l.4 7.1l.5-9.1l.4 9.1l.5-6.4l.4 7.6l.4-8.3l.5 6.7l.4-6.6l.5 5.8l.4-11.2l.4 13.3l.5-6.3l.4 3.9l.5-7.8l.4 8.7l.4-8.5l.5 7.4l.4-3l.5 4.7l.4-11.6l.4 11.3l.5-8.5l.4 6.6l.5-7l.4 8.6l.4-11.4l.5 12.9l.4-12.7l.5 12.1l.4-4.9l.4 5.1l.5-5.1l.4 4.1l.5-5.1l.4 4.4l.4-6.6l.5 6.4l.4-3.1l.5 5.1l.4-10.3l.4 10.2l.5-5.6l.4 3.5l.5-5.7l.4 6.3l.4-10.5l.5 10l.4-4.5l.5 6.5l.4-12.6l.4 11.9l.5-7.1l.4 6.2l.5-5.2l.4 4.9l.4-4.7l.5 7.1l.4-9.4l.5 7.6l.4-8.9l.4 9.5l.5-9.1l.4 9.4l.5-6.5l.4 4.4l.4-4.9l.5 5.9l.4-6.8l.5 7.4l.4-6.7l.4 5.5l.5-10.1l.4 11.9l.5-5l.4 4.4l.4-7.9l.5 8.9l.4-10.1l.5 8.8l.4-3.7l.4 5.1l.5-13l.4 12l.5-5.7l.4 5l.4-7.1l.5 9.4l.4-8.4l.5 8.2l.4-7.3l.4 6.5l.5-7.9l.4 7.2l.5-6.9l.4 7.4l.4-11l.5 10.9l.4-6.3l.5 7.5l.4-10.7l.4 10.4l.5-8.5l.4 8l.5-8.3l.4 8.9l.4-6.7l.5 3.5l.4-7.8l.5 10.4l.4-9.3l.4 8.2l.5-9.8l.4 9.4l.5-11l.4 10.5l.4-6.7l.5 7.4l.4-5l.5 6.1l.4-9.8l.4 8.1l.5-10l.4 11.4l.5-8.5l.4 7.5l.4-3.6l.5 5.1l.4-7.2l.5 5.8l.4-7.5l.4 6.6l.5-4.5l.4 5.9l.5-8.4l.4 8.9l.4-7.8l.5 8.3l.4-4.9l.5 3.4l.4-4.5l.4 4.8l.5-9l.4 7.9l.5-7.4l.4 7.4l.4-10l.5 10.2l.4-7l.5 8.5l.4-11.1l.4 11.7l.5-8.1l.4 6l.5-4.5l.4 4.3l.4-4.7l.5 5.8l.4-7.3l.5 7.5l.4-11.9l.4 10.6l.5-4.2l.4 6.6l.5-9.5l.4 7.9l.4-10.5l.5 11l.4-7.2l.5 7.4l.4-8.3l.4 6.5l.5-8.9l.4 9l.5-5.6l.4 5.9l.4-15.9l.5 16.7l.4-5.2l.5 5.2l.4-9.9l.4 11.2l.5-9.2l.4 8.4l.5-6.1l.4 6l.4-11.4l.5 10.5l.4-3.5l.5 3.4l.4-14.8l.4 15.9l.5-10l.4 8.6l.5-4.4l.4-12.6v18.8l.4-6.6l.5 7.6l.4-5.8l.5 5.2l.4-5.5l.4 4.5l.5-7.1l.4 7.8l.5-9.1l.4 8.3l.4-5.5l.5 6.1l.4-9.7l.5 11.1l.4-11.1l.4 8.3l.5-8.1l.4 8.2l.5-10.9l.4 12l.4-8.6l.5 9.5l.4-7.3l.5 7.2l.4-11.9l.4 10.7l.5-8.3l.4 9.6l.5-5.5l.4 5l.4-7.3l.5 7.9l.4-11.9l.5 11.5l.4-5.1l.4 3.1l.5-7.2l.4 8.9l.5-9.6l.4 8.7l.4-12.8l.5 12.3l.4-7.7l.5 7.5l.4-7.6l.4 8.1l.5-5.7l.4 8l.5-11.1l.4 9.6l.4-12l.5 11.6l.4-8.6l.5 9.8l.4-10.2l.4 10l.5-12l.4 9.9l.5-4.9l.4 5.9l.4-9l.5 9.6l.4-4.7l.5 3l.4-16.7l.4 19l.5-9.3l.4 6.9l.5-6.3l.4 8.6l.4-5.3l.5 3.2l.4-3l.5 2.8l.4-2.8l.4 5.2l.5-15.1l.4 13.5l.5-6.7l.4 6.2l.4-6.7l.5 8.3l.4-9.4l.5 8.9l.4-10.9l.4 11.7l.5-7.6l.4 6.5l.5-9l.4 8.8l.4-10.2l.5 9.3l.4-7.7l.5 8.9l.4-6.5l.4 6l.5-4.2l.4 5l.5-6.5l.4 6l.4-7.8l.5 7.3l.4-9.9l.5 10.5l.4-3.6l.4 5.2l.5-7.2l.4 5.3l.5-5.4l.4 6.4l.4-9.6l.5 9.2l.4-5.5l.5 4.9l.4-7.3l.4 6.8l.5-10.6l.4 11.5l.5-9.8l.4 11.5l.4-12.8l.5 10.7l.4-4.1l.5 6.2l.4-8.1l.4 6l.5-10.3l.4 10.8l.5-11l.4 12.7l.4-6.5l.5 6.6l.4-8.4l.5 6.5l.4-8.7l.4 8.1l.5-7.6l.4 7l.5-3l.4 5.7l.4-6.1l.5 5.4l.4-6.4l.5 5.4l.4-7.8l.4 7.9l.5-5.2l.4 5.2l.5-6.8l.4 7.3l.4-5.2l.5 4.4l.4-3.4l.5 5l.4-5.3l.4 3.4l.5-3.3l.4 3.9l.5-17l.4 18.1l.4-9.6l.5 10.2l.4-6.1l.5 4l.4-8l.4 10.2l.5-6.7l.4 6l.5-7.7l.4 7.3l.4-6.1l.5 5.9l.4-5.4l.5 6.5l.4-6.9l.4 4.4l.5-4.7l.4 6.6l.5-12.1l.4 11.7l.4-5.1l.5 5.9l.4-5.7l.5 4.6l.4-6.7l.4 6.8" fill="none" stroke="#1f77b4" stroke-width="1.0" stroke-linejoin="round"/></g><path d="M87.5 630.6h-3M87.5 653.4h-3M87.5 676.2h-3M87.5 699.0h-3M131.2 703.0v3M246.9 703.0v3M387.3 703.0v3M502.9 703.0v3M635.1 703.0v3M750.8 703.0v3" stroke="#222" stroke-width="0.9" fill="none"/><rect x="87.50" y="610.75" width="696.25" height="92.25" fill="none" stroke="#3a3a3a" stroke-width="0.9"/><g font-family="DejaVu Sans, Liberation Sans, sans-serif" font-size="7.6" fill="#262626" stroke="#262626" stroke-width="0.18"><text x="81.0" y="633.4" text-anchor="end" font-size="7.3">30000</text><text x="81.0" y="656.1" text-anchor="end" font-size="7.3">20000</text><text x="81.0" y="679.0" text-anchor="end" font-size="7.3">10000</text><text x="81.0" y="701.8" text-anchor="end" font-size="7.3">0</text><text x="131.2" y="714.4" text-anchor="middle">2021-05-01</text><text x="246.9" y="714.4" text-anchor="middle">2021-05-15</text><text x="387.3" y="714.4" text-anchor="middle">2021-06-01</text><text x="502.9" y="714.4" text-anchor="middle">2021-06-15</text><text x="635.1" y="714.4" text-anchor="middle">2021-07-01</text><text x="750.8" y="714.4" text-anchor="middle">2021-07-15</text><rect x="667.0" y="615.0" width="112.5" height="14.5" rx="1.6" fill="#fff" fill-opacity="0.8" stroke="#ccc" stroke-width="0.7"/><path d="M669.9 622.2h16.6" stroke="#1f77b4" stroke-width="1.5" stroke-opacity="0.8"/><text x="692.5" y="625.0">8D0E90_7B086_TRX2</text></g></g>
<g><rect x="87.50" y="721.50" width="696.25" height="91.75" fill="#fff" stroke="none"/><g clip-path="none"><rect x="118.5" y="795.2" width="633" height="15.0" fill="#1f77b4"/><path d="M119 796.5l.4-25.9l.4 26.5l.4-23l.4 24.2l.4-13.1l.4 15.5l.4-12.3l.4 12l.4-7l.4 13.9l.4-12.6l.4 3.3l.4-7.5l.4 7.1l.4-10.5l.4 11.2l.4-18.1l.4 17.5l.4-28.8l.4 32.9l.4-30.7l.4 28.5l.4-17.3l.4 18.7l.4-14l.4 19.9l.4-22.5l.4 15.4l.4-17.5l.4 19.7l.4-23.6l.4 22.3l.4-9.1l.4 10.7l.4-12.4l.4 7.8l.4-17.3l.4 23.9l.4-23.6l.4 22.4l.4-30.1l.4 25l.4-41.6l.4 43.3l.4-39.1l.4 37.1l.4-18.5l.4 20l.4-20.1l.4 19.1l.4-13.8l.4 20.4l.4-15.4l.4 15.3l.4-27.5l.4 29l.4-40.1l.4 39.7l.4-33.6l.4 25.4l.4-24.1l.4 29.1l.4-22.4l.4 24.8l.4-21.8l.4 13.5l.4-13.6l.4 17.1l.4-8.2l.4 6.1l.4-4.8l.4 14.1l.4-20.5l.4 18.5l.4-29.3l.4 24.8l.4-28.6l.4 33.5l.4-45.3l.4 39.5l.4-39.2l.4 39l.4-25.2l.4 31.9l.4-21.9l.4 17.7l.4-16.8l.4 18.1l.4-13.9l.4 9.4l.4-11.7l.4 17.6l.4-10.6l.4 6.3l.4-14l.4 13l.4-16.7l.4 20.8l.4-27.4l.4 29.2l.4-34.7l.4 26.2l.4-39.2l.4 41.7l.4-21.4l.4 25.3l.4-25.1l.4 24.3l.4-17l.4 13.2l.4-11l.4 18.5l.4-11.4l.4 2.6l.4-14.7l.4 18.9l.4-20.7l.4 19.8l.4-28.1l.4 30l.4-43.7l.4 46.5l.4-48l.4 42.9l.4-20.5l.4 20.1l.4-23.3l.4 20.3l.4-10.8l.4 15.3l.4-10.7l.4 7.1l.4-3.7l.4 12.1l.4-15.3l.4 5.4l.4-12l.4 16.5l.4-20.2l.4 16.3l.4-19.3l.4 23.8l.4-37.5l.4 33.8l.4-32.9l.4 34.9l.4-25.6l.4 30.2l.4-18.9l.4 16.1l.4-19.5l.4 24.7l.4-14.1l.4 10.1l.4-9.8l.4 5.1l.4-11.9l.4 19.1l.4-22.7l.4 13.7l.4-19l.4 24.5l.4-32.2l.4 30.5l.4-30.1l.4 29.8l.4-20.4l.4 27l.4-18.4l.4 15.8l.4-14.8l.4 17.3l.4-10.8l.4 1.3l.4-5.2l.4 9.9l.4-13.5l.4 15.6l.4-36.2l.4 37.4l.4-21.7l.4 19.1l.4-25.4l.4 24.4l.4-24.7l.4 22.9l.4-19.3l.4 23.8l.4-20.1l.4 20.4l.4-16l.4 13.9l.4-10.5l.4 8.5l.4-8.4l.4 6.9l.4-12.5l.4 19.5l.4-24.7l.4 26.7l.4-20.4l.4 13l.4-38.3l.4 34.8l.4-35.8l.4 38.4l.4-13.2l.4 12.6l.4-18.3l.4 16l.4-10.6l.4 15.5l.4-9l.4 11.4l.4-7l.4 6.8l.4-12.5l.4 11.1l.4-14.6l.4 11.9l.4-12.3l.4 16.1l.4-17.6l.4 18.8l.4-30.1l.4 23.3l.4-23.7l.4 29.2l.4-18l.4 12.1l.4-17.3l.4 18.3l.4-10.4l.4 11.7l.4-8.1l.4 9.2l.4-6.4l.4 9.6l.4-27.1l.4 23.3l.4-14l.4 16.2l.4-19.2l.4 19.8l.4-42.4l.4 37.4l.4-28.5l.4 33l.4-17.1l.4 20.8l.4-18.1l.4 11.6l.4-10.8l.4 7.9l.4-3.5l.4 3.5l.4-7l.4 14.1l.4-16.5l.4 11.5l.4-14.9l.4 16.3l.4-17.8l.4 23.2l.4-39.7l.4 31l.4-31.2l.4 32.8l.4-12.8l.4 12.8l.4-14.5l.4 20.6l.4-24.4l.4 19.4l.4-6.8l.4 5.9l.4-7l.4 16l.4-16.9l.4 14.4l.4-21.3l.4 17.3l.4-19.8l.4 16l.4-26.6l.4 34.1l.4-40.3l.4 35.1l.4-24.7l.4 29.9l.4-29.4l.4 22.6l.4-27.6l.4 27.7l.4-23.2l.4 24.8l.4-19.2l.4 16.7l.4-11.8l.4 17.1l.4-23.8l.4 19.2l.4-21.1l.4 23.6l.4-41.6l.4 42.4l.4-45.2l.4 42.4l.4-27.7l.4 26.3l.4-21.9l.4 28.1l.4-22.6l.4 20.1l.4-15.2l.4 16l.4-10.4l.4 11.3l.4-22.1l.4 18l.4-6.7l.4 6.8l.4-4.1l.4 3l.4-19.9l.4 28.4l.4-26.8l.4 20.6l.4-27.4l.4 24.5l.4-24.8l.4 31.9l.4-37.5l.4 35.3l.4-36.6l.4 36.8l.4-23.4l.4 25.5l.4-23.6l.4 18.8l.4-6.6l.4 12.2l.4-26.8l.4 19.5l.4-13.7l.4 18.4l.4-17.2l.4 18.5l.4-48.8l.4 51.2l.4-49.9l.4 49.7l.4-26.4l.4 23.9l.4-20.1l.4 17l.4-12.2l.4 14.9l.4-9.3l.4 6.6l.4-9.2l.4 7.5l.4-18.9l.4 19.4l.4-12.3l.4 20.5l.4-48.2l.4 44.9l.4-45l.4 47.5l.4-27.6l.4 20.3l.4-17.6l.4 21.3l.4-17.1l.4 21l.4-13l.4 7.1l.4-7.5l.4 13.8l.4-19.1l.4 19.4l.4-20.3l.4 12.3l.4-20.7l.4 23.5l.4-21.6l.4 25.7l.4-36.8l.4 29.4l.4-36.2l.4 35.2l.4-21.4l.4 23l.4-27.5l.4 33.9l.4-32l.4 29.5l.4-23.2l.4 24.6l.4-12l.4 5.3l.4-12.7l.4 21l.4-23.4l.4 18.9l.4-22l.4 26.1l.4-44.8l.4 42.7l.4-43.5l.4 41.6l.4-21.8l.4 19.7l.4-15.8l.4 15.9l.4-10.7l.4 12.5l.4-8.4l.4 10.7l.4-9.8l.4 3.9l.4-7.6l.4 10.3l.4-19.5l.4 15.8l.4-14l.4 17.2l.4-45l.4 42.7l.4-44.7l.4 44.4l.4-19.8l.4 27.5l.4-27.2l.4 26.6l.4-15.3l.4 13.7l.4-15l.4 18.6l.4-11.8l.4 10.9l.4-15.1l.4 12.9l.4-12.2l.4 10.9l.4-16.2l.4 16l.4-27.2l.4 23.1l.4-17.8l.4 24l.4-50.3l.4 47.3l.4-49.3l.4 50.8l.4-18.9l.4 23.5l.4-24.9l.4 22.5l.4-16l.4 11.2l.4-10.2l.4 7.3l.4-8.8l.4 18.8l.4-18.2l.4 13.7l.4-19.2l.4 21.8l.4-17.9l.4 11.9l.4-33.5l.4 40.3l.4-18.7l.4 13.7l.4-13.2l.4 12l.4-13.4l.4 15.8l.4-14.1l.4 13.8l.4-7.8l.4 2.6l.4-5.4l.4 16.2l.4-14.2l.4 5.3l.4-7.7l.4 8.6l.4-10.8l.4 12.7l.4-25.6l.4 31l.4-27.8l.4 22.2l.4-31.1l.4 31.6l.4-30.9l.4 33.5l.4-23.1l.4 18.3l.4-21.1l.4 26.7l.4-17.4l.4 9.9l.4-7.7l.4 14.9l.4-19.5l.4 20.2l.4-33.9l.4 26.8l.4-42.2l.4 48.7l.4-46.4l.4 40l.4-14.4l.4 14.9l.4-13.3l.4 13l.4-13.8l.4 12.8l.4-4.2l.4 9.6l.4-7.8l.4 2.4l.4-16.1l.4 25.1l.4-26.8l.4 18.7l.4-22.1l.4 27l.4-48.8l.4 44.5l.4-44.2l.4 41.4l.4-20.5l.4 29l.4-18.8l.4 19.7l.4-20l.4 15.8l.4-9.2l.4 7.6l.4-8.4l.4 7.8l.4-14.5l.4 13.3l.4-2.3l.4 6.8l.4-11.5l.4 11l.4-15.8l.4 12.1l.4-25.8l.4 32.4l.4-30l.4 29.3l.4-47.6l.4 40.8l.4-40.6l.4 48.7l.4-37.2l.4 36.1l.4-26.6l.4 27.3l.4-16.9l.4 16.2l.4-24.1l.4 20.2l.4-30.8l.4 30.4l.4-31.1l.4 35.8l.4-33.4l.4 25.3l.4-21l.4 26.7l.4-29.7l.4 27.5l.4-21.8l.4 20.1l.4-21.8l.4 26.9l.4-15.5l.4 15.1l.4-11.8l.4 13.3l.4-26.3l.4 26.2l.4-18.9l.4 14.8l.4-32.8l.4 39.5l.4-47.2l.4 46.4l.4-45.2l.4 45l.4-48.3l.4 41.6l.4-22.4l.4 23.9l.4-25.2l.4 29l.4-23.4l.4 18.1l.4-7.6l.4 15.3l.4-13.3l.4 10.3l.4-16l.4 17.2l.4-33.7l.4 32.9l.4-38l.4 38.9l.4-31.7l.4 26l.4-23.3l.4 20.9l.4-17.1l.4 25.5l.4-29.6l.4 26.1l.4-18.2l.4 18.8l.4-18.4l.4 11.9l.4-1.7l.4 8.4l.4-16.8l.4 20.4l.4-14.7l.4 5.2l.4-12l.4 11.1l.4-21.1l.4 23l.4-28.3l.4 31.7l.4-34.1l.4 29.1l.4-41.7l.4 47.7l.4-34.5l.4 31.7l.4-25.2l.4 31.6l.4-23.8l.4 14l.4-7.9l.4 13l.4-17l.4 14.8l.4-15.8l.4 15.1l.4-45.8l.4 43.3l.4-44.1l.4 46.3l.4-15l.4 22.5l.4-17l.4 10.5l.4-12.6v-60.9l.4 75.7l.4-7.7l.4 2.2l.4-6l.4 16l.4-26.7l.4 16.9l.4-24.4l.4 32.2l.4-33.9l.4 30.9l.4-39.7l.4 38.2l.4-40.1l.4 40.1l.4-20.5l.4 21.7l.4-22.4l.4 18.2l.4-12.1l.4 15l.4-9.3l.4 17l.4-13.2l.4 3.8l.4-12.9l.4 13.4l.4-6.9l.4 15.5l.4-15.2l.4 7.6l.4-8.7l.4 14.8l.4-19.2l.4 12.4l.4-13.2l.4 11.4l.4-42l.4 42.6l.4-43.4l.4 45.8l.4-17.2l.4 20.3l.4-28.2l.4 26.7l.4-15.3l.4 19.2l.4-16.1l.4 12.8l.4-6.8l.4 1.7l.4-10.9l.4 21.1l.4-26.4l.4 16l.4-30.1l.4 30.4l.4-22.5l.4 23l.4-24.1l.4 31.3l.4-28.1l.4 30.1l.4-31.7l.4 22.6l.4-28.8l.4 27.8l.4 .1l.4 1.2l.4-8.5l.4 7.6l.4-8.8l.4 12.8l.4-26.7l.4 28.2l.4-22l.4 20.3l.4-39.4l.4 42.8l.4-26.2l.4 19.8l.4-13.8l.4 13.8l.4-14.3l.4 14.4l.4-5.8l.4 11.6l.4-10.5l.4 7.9l.4-7.3l.4 2.6l.4-6.7l.4 14.1l.4-18.4l.4 21.5l.4-25.5l.4 25l.4-24.4l.4 23.4l.4-43.1l.4 40.8l.4-40.5l.4 42.7l.4-26.3l.4 24.5l.4-21.8l.4 24l.4-18.2l.4 10.4l.4-9.7l.4 17.7l.4-32.2l.4 28.2l.4-22.7l.4 21.8l.4-44.8l.4 50.8l.4-51.3l.4 48.2l.4-25.9l.4 21.3l.4-20.2l.4 26.9l.4-19.1l.4 13.7l.4-15.8l.4 18.5l.4-14.7l.4 12.7l.4-15.8l.4 15.8l.4-24.6l.4 26.9l.4-21.2l.4 23.2l.4-33.1l.4 32.9l.4-42.8l.4 33.5l.4-18.9l.4 28.6l.4-26.7l.4 19.6l.4-14l.4 22l.4-27l.4 27.7l.4-16.1l.4 15.6l.4-15.8l.4 7.9l.4-9.9l.4 14.5l.4-13.8l.4 12.9l.4-13.4l.4 16.1l.4-18.1l.4 11.7l.4-17.7l.4 22.8l.4-42.1l.4 38.9l.4-37.6l.4 38.7l.4-16.9l.4 18.2l.4-16.1l.4 18.3l.4-16.8l.4 14.4l.4-7.9l.4 8.9l.4-12.1l.4 5.7l.4-9.4l.4 12.3l.4-14.7l.4 13.8l.4-13.3l.4 20.2l.4-31.1l.4 23.6l.4-22.7l.4 28.9l.4-23.7l.4 23.4l.4-23.9l.4 25.6l.4-16.6l.4 7.4l.4-8.5l.4 15.3l.4-23.5l.4 17.7l.4-25.1l.4 25.3l.4-41l.4 43l.4-46.4l.4 51.5l.4-33.1l.4 27.6l.4-17.6l.4 21.1l.4-22l.4 19.8l.4-21.4l.4 17.2l.4-10.6l.4 12.3l.4-8.9l.4 11.6l.4-14.3l.4 14.3l.4-30.8l.4 29.4l.4-18.6l.4 19l.4-38l.4 41.6l.4-23.6l.4 18.4l.4-36.8l.4 37.6l.4-25.9l.4 31.3l.4-20.6l.4 14.7l.4-14.3l.4 21.4l.4-13.3l.4 13.6l.4-26l.4 18.1l.4-29.9l.4 31.7l.4-27.9l.4 29.9l.4-38.3l.4 35.8l.4-38.7l.4 45.6l.4-36.7l.4 31.1l.4-34.2l.4 36.2l.4-33.2l.4 31.7l.4-14.4l.4 15.4l.4-10.4l.4 14.5l.4-14.7l.4 9.2l.4-18.2l.4 20.5l.4-17.8l.4 13.3l.4-13.4l.4 18.4l.4-34.7l.4 32.4l.4-17.1l.4 12.9l.4-16.6l.4 22.1l.4-14.4l.4 15.1l.4-11.7l.4 8.8l.4-12.3l.4 17l.4-16.2l.4 10.3l.4-25.5l.4 28.5l.4-30.8l.4 26.2l.4-17.8l.4 23.5l.4-35.2l.4 32l.4-44.4l.4 48.7l.4-35.4l.4 31.3l.4-20.7l.4 18.9l.4-13.9l.4 20.7l.4-18.8l.4 15l.4-6.6l.4 4.9l.4-11.5l.4 13l.4-17.2l.4 13.7l.4-22.3l.4 30.6l.4-29l.4 22.1l.4-43.2l.4 40.8l.4-17.2l.4 26.2l.4-23.3l.4 23.4l.4-24.6l.4 17.6l.4-16.9l.4 18.9l.4-7.2l.4 8.8l.4-20.4l.4 15l.4-26.4l.4 28.5l.4-25.8l.4 27.4l.4-35.4l.4 36.9l.4-38l.4 34.4l.4-41.6l.4 39.2l.4-34.3l.4 37.4l.4-17l.4 22.5l.4-14.1l.4 11.3l.4-10.8l.4 11.3l.4-19.8l.4 22l.4-16.3l.4 15l.4-9.9l.4 9.3l.4-20.1l.4 13l.4-17.4l.4 17.4l.4-19.9l.4 21.9l.4-40l.4 44.3l.4-39.8l.4 33.9l.4-15l.4 14.5l.4-18.3l.4 25l.4-23.4l.4 19.2l.4-11.8l.4 11.4l.4-5.9l.4 9.8l.4-17l.4 17.7l.4-34.3l.4 37.6l.4-27.3l.4 21.5l.4-22l.4 26l.4-26.2l.4 23l.4-22.5l.4 24.8l.4-30.8l.4 23.8l.4-19.2l.4 24.3l.4-11.5l.4 14.4l.4-10.7l.4 6.6l.4-10.5l.4 8.8l.4-17.3l.4 19.5l.4-17.1l.4 20.7l.4-22l.4 20l.4-34l.4 30.6l.4-18.3l.4 20.4l.4-20.2l.4 16.4l.4-9.7l.4 9.2l.4-5.4l.4 9.1l.4-8.5l.4 11.5l.4-24.5l.4 17.2l.4-17.4l.4 23.8l.4-19.2l.4 21.4l.4-37.6l.4 33.8l.4-16.5l.4 11.7l.4-21l.4 26l.4-15.2l.4 19.6l.4-18.5l.4 15.5l.4-7.9l.4 1l.4-3.2l.4 13.4l.4-16.2l.4 9.1l.4-19.1l.4 21.8l.4-30.5l.4 32.3l.4-30.6l.4 28l.4-34.9l.4 30.8l.4-32.3l.4 38.6l.4-31.4l.4 32.9l.4-25l.4 23.2l.4-27.3l.4 25.3l.4-11.4l.4 9.5l.4-14l.4 12.7l.4-15.4l.4 15l.4-12.1l.4 13.4l.4-23.3l.4 22.1l.4-20.3l.4 27.4l.4-23l.2-52.8l.2 70.1l.4-11.4l.4 9.7l.4-5.7l.4 11.3l.4-8.8l.4 6.2l.4-9.5l.4 11.5l.4-19.5l.4 24.5l.4-28.1l.4 20.8l.4-15.3l.4 13.8l.4-32l.4 35l.4-22.9l.4 21l.4-19.7l.4 23.3l.4-19.7l.4 22l.4-18.5l.4 13.1l.4-5.6l.4 4.5l.4-15.4l.4 21.5l.4-36.7l.4 30.9l.4-29.2l.4 27l.4-24.6l.4 26.6l.4-43l.4 50.9l.4-37l.4 37l.4-32.2l.4 29.2l.4-20l.4 18.6l.4-15.6l.4 14.8l.4-9.4l.4 9.3l.4-12.9l.4 11.6l.4-10.9l.4 15.8l.4-9.6l.4 5.7l.4-18.8l.4 24.7l.4-26.3l.4 23.3l.4-32.5l.4 24.7l.4-15.5l.4 18.1l.4-34.3l.4 40.2l.4-44.3l.4 45.9l.4-25.9l.4 23.5l.4-26.5l.4 25.6l.4-17l.4 18.4l.4-15.1l.4 10.8l.4-9.9l.4 16.1l.4-24.7l.4 17.7l.4-27.6l.4 31.3l.4-24.2l.4 21.6l.4-31.6l.4 27.1l.4-27.7l.4 29l.4-25.3l.4 25.6l.4-16.3l.4 16.6l.4-17.3l.4 17.5l.4-11.5l.4 14.6l.4-10.9l.4 10.9l.4-14.9l.4 13.6l.4-21.7l.4 21.2l.4-24.9l.4 25.4l.4-40.7l.4 43.5l.4-25.8l.4 23.5l.4-19.4l.4 23l.4-21.5l.4 14.4l.4-11.8l.4 14.3l.4-11.6l.4 11.9l.4-2.7l.4 3.8l.4-11l.4 7.5l.4-15.2l.4 16.5l.4-28.2l.4 34.5l.4-22.5l.4 20.2l.4-45.5l.4 42.6l.4-27.7l.4 31.9l.4-24.1l.4 20.7l.4-28.1l.4 33.4l.4-11.7l.4 7.7l.4-14.9l.4 13.5l.4-14.7l.4 15l.4-20.2l.4 26.6l.4-32l.4 23.6l.4-22.9l.4 24.6l.4-23.3l.4 29.4l.4-21.2l.4 16.1l.4-17.6l.4 22.2l.4-16.4l.4 8.5l.4-7.3l.4 9.2l.4-5.8l.4 4.8l.4-4.6l.4 11l.4-21.7l.4 20.1l.4-18.4l.4 17.1l.4-17.5l.4 21.6l.4-49l.4 49.4l.4-50.6l.4 42.3l.4-22.6l.4 24.2l.4-22.5l.4 23.8l.4-15l.4 16.9l.4-18.4l.4 11l.4-6.6l.4 14.6l.4-16.7l.4 12.4l.4-13.5l.4 17.1l.4-42.3l.4 36l.4-33.2l.4 42.7l.4-26.7l.4 25.4l.4-18.8l.4 13.3l.4-14.8l.4 13.6l.4-7.4l.4 6.6l.4-4.1l.4 6.8l.4-9.2l.4 10.6l.4-31.5l.4 26.2l.4-16.3l.4 19.7l.4-29.1l.4 32.9l.4-41.3l.4 41.9l.4-46.3l.4 39.1l.4-20.2l.4 26.7l.4-35.1l.4 37.6l.4-21.3l.4 18.1l.4-14.6l.4 9l.4-16l.4 16.3l.4-24.8l.4 34l.4-39.7l.4 36.8l.4-50.1l.4 43l.4-28.7l.4 32.4l.4-20.8l.4 26.6l.4-23.5l.4 20.2l.4-29.6l.4 22.9l.4-4.1l.4 10.8l.4-14.1l.4 14.6l.4-12l.4 5.1l.4-7.8l.4 14.8l.4-21.4l.4 16.8l.4-20.6l.4 27.2l.4-27.3l.4 21.7l.4-18.9l.4 17.3l.4-17l.4 24.4l.4-20.1l.4 14.8l.4-10.4l.4 7.8l.4-4.9l.4 13.8l.4-23.5l.4 21.1l.4-8.2l.4 6.7l.4-14.7l.4 14.5l.4-12.6l.4 11.9l.4-29l.4 26.9l.4-19.7l.4 20.3l.4-34.5l.4 34.9l.4-35.7l.4 36l.4-17.3l.4 22.3l.4-21.4l.4 13.6l.4-13.3l.4 16.9l.4-9.6l.4 6.4l.4-8.3l.4 5.7l.4-8.2l.4 17.9l.4-29.2l.4 28.2l.4-29.1l.4 24.2l.4-19.9l.4 25.7l.4-46.3l.4 45.8l.4-38.2l.4 39.5l.4-31.1l.4 25l.4-26.6l.4 29.2l.4-13.8l.4 17.5l.4-18.8l.4 11.2l.4-11.5l.4 15.8l.4-18.9l.4 20.9l.4-26.5l.4 20.5l.4-19l.4 25.8l.4-40.2l.4 34.1l.4-22.4l.4 21.2l.4-19.5l.4 25.9l.4-21.1l.4 13.6l.4-11.1l.4 16l.4-13.7l.4 16.1l.4-21.3l.4 23.2l.4-28.6l.4 19.9l.4-19.4l.4 22.4l.4-15.1l.4 18.9l.4-21.2l.4 20.2l.4-18.9l.4 15.9l.4-9.3l.4 4.9l.4-3.6l.4 7.8l.4-16.3l.4 13.8l.4-15.3l.4 19.8l.4-19.8l.4 16.9l.4-26.6l.4 23.1l.4-35.9l.4 40.6l.4-44.8l.4 43.9l.4-27.8l.4 24.7l.4-17.5l.4 25.9l.4-34.5l.4 32.4l.4-15.6l.4 12.1l.4-7.8l.4 14.8l.4-15.8l.4 12.6l.4-10.8l.4 12.7l.4-15.2l.4 15.5l.4-22.6l.4 19.2l.4-30.5l.4 25.9l.4-21.9l.4 21.3l.4-34.5l.4 33.6l.4-26.1l.4 30.3l.4-24.7l.4 23.1l.4-18.2l.4 21.3l.4-8.6l.4 2.3l.4-4.4l.4 15.4l.4-24.2l.4 16.9l.4-30.7l.4 36.6l.4-31.7l.4 27.5l.4-31.7l.4 27l.4-30.9l.4 32.1l.4-18.5l.4 17.4l.4-25.4l.4 26.4l.4-15.9l.4 18.4l.4-14.1l.4 18.8l.4-13.9l.4 5.8l.4-10.2l.4 10.8l.4-15.5l.4 19.1l.4-18.3l.4 13.7l.4-38.4l.4 47l.4-48.8l.4 50.3l.4-19.8l.4 17.6l.4-27.2l.4 20.5l.4-16.3l.4 19.9l.4-11.3l.4 8.2l.4-6.8l.4 13.6l.4-19.1l.4 13.1l.4-22.8l.4 25.4l.4-21.7l.4 22.5l.4-39.6l.4 42.7l.4-40l.4 37.8l.4-40.7l.4 39.8l.4-25.7l.4 30.1l.4-19.2l.4 17.8l.4-22.3l.4 19.9l.4-13.4l.4 11.8l.4-18.9l.4 23.6l.4-39.1l.4 37l.4-41.8l.4 37.8l.4-29.5l.4 29.7l.4-21.6l.4 24.8l.4-35.5l.4 36.3l.4-31.2l.4 29.7l.4-18.1l.4 21.2l.4-20.2l.4 11.8l.4-1.9l.4 9.7" fill="none" stroke="#1f77b4" stroke-width="1.05" stroke-linejoin="round"/></g><path d="M87.5 750.0h-3M87.5 779.8h-3M87.5 809.5h-3M131.2 813.2v3M246.9 813.2v3M387.3 813.2v3M502.9 813.2v3M635.1 813.2v3M750.8 813.2v3" stroke="#222" stroke-width="0.9" fill="none"/><rect x="87.50" y="721.50" width="696.25" height="91.75" fill="none" stroke="#3a3a3a" stroke-width="0.9"/><g font-family="DejaVu Sans, Liberation Sans, sans-serif" font-size="7.6" fill="#262626" stroke="#262626" stroke-width="0.18"><text x="81.0" y="752.8" text-anchor="end" font-size="7.3">10000</text><text x="81.0" y="782.5" text-anchor="end" font-size="7.3">5000</text><text x="81.0" y="812.2" text-anchor="end" font-size="7.3">0</text><text x="131.2" y="824.6" text-anchor="middle">2021-05-01</text><text x="246.9" y="824.6" text-anchor="middle">2021-05-15</text><text x="387.3" y="824.6" text-anchor="middle">2021-06-01</text><text x="502.9" y="824.6" text-anchor="middle">2021-06-15</text><text x="635.1" y="824.6" text-anchor="middle">2021-07-01</text><text x="750.8" y="824.6" text-anchor="middle">2021-07-15</text><rect x="667.5" y="725.8" width="112.0" height="14.2" rx="1.6" fill="#fff" fill-opacity="0.8" stroke="#ccc" stroke-width="0.7"/><path d="M670.4 732.9h16.6" stroke="#1f77b4" stroke-width="1.5" stroke-opacity="0.8"/><text x="693.0" y="735.7">8D0E90_7B086_TRX3</text></g></g>
<g><rect x="857.50" y="388.25" width="695.00" height="92.75" fill="#fff" stroke="none"/><g clip-path="none"><rect x="888" y="472.9" width="632.5" height="4.0" fill="#1f77b4"/><path d="M888.5 474l.5-2.5l.4 2.7l.5-3.7l.4 4.3l.5-3l.4 2.9l.5-2.4l.4 2.3l.5-2.4l.4 1.7l.5-.8l.4 .8l.5-.9l.4 1.4l.5-1.5l.4 1.4l.5-2l.4 1.6l.5-2.2l.4 1.9l.5-3.2l.4 3.6l.5-2.9l.4 3.6l.5-1.8l.4 1.9l.5-2.1l.4 1l.5-.9l.4 .7l.5-.7l.4 1.4l.5-1.1l.4 1.5l.5-2.1l.4 1l.5-1.7l.4 2.7l.5-2.7l.4 2.7l.5-1.6l.4 .6l.5-1.3l.4 1.6l.5-1l.4 .6l.5-.9l.4 1.9l.5-1.9l.4 2.1l.5-1.4l.4 1.3l.5-1.8l.4 .7l.5-1.6l.4 2.4l.5-4l.4 3.6l.5-2.2l.4 2.3l.5-1.8l.4 2.1l.5-1l.4 1.6l.5-2l.4 2l.5-2.6l.4 1.9l.5-1.4l.4 2.1l.5-4.9l.4 3.6l.5-2.2l.4 3.5l.5-2.2l.4 1.9l.5-1.6l.4 1.9l.5-2.6l.4 2.4l.5-1.8l.4 1.3l.5-1.2l.4 1.8l.5-2.4l.4 1.7l.5-1l.1-80.8l.3 81.9l.5-1.6l.4 1.8l.5-2.4l.4 1.6l.5-1.9l.4 2l.5-2l.4 2.8l.5-3.1l.4 2.3l.5-1l.4 2.2l.5-1.7l.4 1.1l.5-1.2l.4 1.8l.5-1.6l.4 1.4l.5-1.8l.4 1.9l.5-2.7l.4 1.7l.5-4.2l.4 4.4l.5-4.1l.4 4.4l.5-2.5l.4 1.7l.5-1l.4 2.1l.5-1.7l.4 1.9l.5-1.6l.4 1.4l.5-1.5l.4 1.8l.5-2.2l.4 2.3l.5-1.9l.4 1.3l.5-3.3l.4 3l.5-2.9l.4 3.2l.5-2.3l.4 2l.5-2l.4 2.7l.5-1.7l.4 .8l.5-1.6l.4 1.5l.5-1l.4 .8l.5-2l.4 2.7l.5-4.8l.4 4.7l.5-3.5l.4 4.1l.5-2.3l.4 2.4l.5-1.6l.4 .8l.5-1.7l.4 2l.5-1.3l.4 1.6l.5-1.7l.4 .8l.5-.8l.4 1.6l.5-2.6l.4 1.7l.5-2.6l.4 3.7l.5-5.3l.4 5.4l.5-2.9l.4 1.9l.5-1.2l.4 1.1l.5-1.2l.4 1.1l.5-1.2l.4 1.9l.5-1.6l.4 1.3l.5-1.2l.4 1.6l.5-1.6l.4 1.5l.5-2.5l.4 2.5l.5-3.8l.4 3l.5-2.6l.4 3.2l.5-2.1l.4 2l.5-1.5l.4 2l.5-1.3l.4 1.1l.5-1.9l.4 1.4l.5-1.5l.4 2.2l.5-1.4l.4 .6l.5-1.7l.4 1.5l.5-2l.4 2.3l.5-2.3l.4 2.6l.5-2.8l.4 2.1l.5-1.3l.4 2.8l.5-2l.4 1l.5-1.7l.4 1.8l.5-.9l.4 .7l.5-1.3l.4 1.8l.5-1.3l.4 1.4l.5-2.3l.4 1.4l.5-2.1l.4 2.3l.5-1.2l.4 1.5l.5-1.8l.4 1.6l.5-1l.4 1.3l.5-1.2l.4 1.6l.5-2.4l.4 2.5l.5-1.8l.4 1.2l.5-2.8l.4 3.4l.5-5.1l.4 4.3l.5-3.4l.4 3.7l.5-3.2l.4 3.5l.5-2.1l.4 1.2l.5-1l.4 1.1l.5-.4l.4 1.4l.5-1.4l.4 1.5l.5-1.6l.4 .6l.5-2.1l.4 2.1l.5-3.7l.4 3.4l.5-4.1l.4 5.4l.5-2.7l.4 2.6l.5-2.2l.4 1.4l.5-.7l.4 1.2l.5-1.4l.4 1.8l.5-1.8l.4 .9l.5-1.6l.4 1.2l.5-1l.4 1.4l.5-.9l.4 1.3l.5-2.6l.4 1.9l.5-2l.4 2.6l.5-3.2l.4 3.1l.5-1.6l.4 1.2l.5-.5l.4 1.1l.5-1.7l.4 2.3l.5-1.7l.4 1.1l.5-2.2l.4 2.3l.5-3.4l.4 3.4l.5-4.5l.4 3.9l.5-2.5l.4 3.3l.5-2.4l.4 2l.5-1.2l.4 .5l.5-.7l.4 2.1l.5-2.6l.4 1.6l.5-.6l.4 1.1l.5-1.5l.4 1.2l.5-1.9l.4 1.8l.5-1.6l.4 1.4l.5-3.2l.4 3.1l.5-2.1l.4 1.9l.5-1.3l.4 2.6l.5-1.9l.4 .6l.5-.4l.4 1.2l.5-1.6l.4 1.9l.5-2.2l.4 2.3l.5-3.6l.4 3.3l.5-5.8l.4 6.1l.5-3.6l.4 2.4l.5-1l.4 2.1l.5-2.4l.4 2.7l.5-2l.4 1.7l.5-1.6l.4 .8l.5-1l.4 .7l.5-.2l.4 1.5l.5-1.9l.4 1.5l.5-1.9l.4 1l.5-1.5l.4 2.6l.5-4.1l.4 4.3l.5-4l.4 4.2l.5-3l.4 2.2l.5-1.8l.4 2.5l.5-1.6l.4 1.1l.5-1.1l.4 1.2l.5-1.9l.4 1l.5-1.1l.4 1.4l.5-3.1l.4 2.7l.5-2.2l.4 2.3l.5-1.8l.4 2.1l.5-1.4l.4 1.1l.5-.9l.4 1l.5-.7l.4 1.2l.5-1.5l.4 1.6l.5-2.2l.4 2.4l.5-4.3l.4 4.4l.5-3.8l.4 3.1l.5-2l.4 2.1l.5-1.4l.4 2l.5-2.2l.4 1.9l.5-1.1l.4 1.6l.5-2.2l.4 1.5l.5-.8l.4 .4l.5-1.3l.4 2.5l.5-1.8l.4 .8l.5-2l.4 2.8l.5-4.2l.4 4.4l.5-4.7l.4 4.7l.5-3.8l.4 2.5l.5-.8l.4 1.2l.5-.8l.4 .6l.5-.9l.4 2.1l.5-3l.4 1.6l.5-2l.4 3.1l.5-4l.4 4l.5-2.6l.4 2.8l.5-2.6l.4 1.7l.5-.8l.4 1l.5-1.3l.4 1.2l.5-.9l.4 1.4l.5-1.8l.4 .8l.5-1l.4 1.7l.5-2.1l.4 2.3l.5-2l.4 1.9l.5-3.5l.4 3.1l.5-4.1l.4 4.9l.5-3.6l.4 3.6l.5-3l.4 2.3l.5-1.9l.4 2.2l.5-1.8l.4 2l.5-1.6l.4 1.8l.5-2.4l.4 2l.5-2.6l.4 2.7l.5-3.8l.4 3.1l.5-2.6l.4 3.6l.5-1.9l.4 2.1l.5-2l.4 1.8l.5-2.4l.4 1.1l.5-.2l.4 .5l.5-1l.4 2.1l.5-2.2l.4 1.6l.5-1.8l.4 1l.5-1.5l.4 2.2l.5-4.1l.4 3.9l.5-4l.4 3.7l.5-1.9l.4 3.1l.5-2.7l.4 2.1l.5-1.6l.4 1.5l.5-1.8l.4 2.2l.5-3.2l.4 2.7l.5-2.9l.4 2.7l.5-3l.4 2.6l.5-.7l.4 2.1l.5-2.3l.4 1.1l.5-1.1l.4 2.2l.5-1.7l.4 1.3l.5-1.8l.4 2.2l.5-1.8l.4 1.1l.5-1.3l.4 .9l.5-1.2l.4 2l.5-3l.4 2.8l.5-4.3l.4 4.8l.5-4.7l.4 3.8l.5-2.3l.4 2.9l.5-2.2l.4 2l.5-1.7l.4 1.9l.5-1.7l.4 1.1l.5-1.7l.4 2.5l.5-2.3l.4 1.4l.5-3.5l.4 4.6l.5-3.8l.4 3.7l.5-3.1l.4 2l.5-1.4l.4 1.7l.5-1.4l.4 2l.5-1.2l.4 .6l.5-1.4l.4 1.6l.5-1.2l.4 .9l.5-1.3l.4 1.2l.5-2.2l.4 3.3l.5-4.7l.4 4.6l.5-3.2l.4 2.2l.5-1.6l.4 2.1l.5-1.6l.4 1.5l.5-1.7l.4 1.3l.5-1.4l.4 1.7l.5-2.3l.4 2.2l.5-2.6l.4 2.1l.5-1.7l.4 2.7l.5-2.3l.4 2.7l.5-1.7l.4 1.1l.5-1.7l.4 1.8l.5-2.1l.4 1.3l.5-.5l.4 1.3l.5-1.5l.4 2.1l.5-2.5l.4 1.4l.5-1.4l.4 1.3l.5-2.1l.4 2.1l.5-2.8l.4 3l.5-4.8l.4 5.1l.5-2.9l.4 3.2l.5-2.9l.4 3l.5-2.4l.4 2.1l.5-1.7l.4 1.7l.5-1.4l.4 2l.5-2.2l.4 2l.5-2.4l.4 1.1l.5-2.2l.4 2.3l.5-1.9l.4 3.3l.5-3.4l.4 2.2l.5-1.9l.4 2.4l.5-1.8l.4 1.7l.5-1.3l.4 1.4l.5-1.2l.4 1.4l.5-1.5l.4 1.2l.5-2.3l.4 2.2l.5-3.1l.4 3.4l.5-4.6l.4 4l.5-3.2l.4 4.2l.5-2.6l.4 1.8l.5-1.7l.4 2.6l.5-2.1l.4 1.5l.5-1.4l.4 1.4l.5-2.4l.4 2.7l.5-3.4l.4 3.3l.5-5.2l.4 5.5l.5-4.2l.4 4.3l.5-2.4l.4 1.4l.5-.8l.4 .6l.5-1.1l.4 1.7l.5-1l.4 1.3l.5-1.5l.4 .6l.5-.7l.4 1.2l.5-1.7l.4 1.8l.5-2.5l.4 2.6l.5-2.7l.4 2.6l.5-3.3l.4 3.4l.5-2.6l.4 2.9l.5-2.3l.4 2.5l.5-2.4l.4 1.1l.5-.3l.4 .7l.5-1.4l.4 2.3l.5-1.8l.4 1.4l.5-2.6l.4 1.8l.5-3.7l.4 3.7l.5-2.6l.4 3.4l.5-2.3l.4 1.4l.5-1.2l.4 1.1l.5-.6l.4 .8l.5-.5l.4 .6l.5-.9l.4 1.7l.5-1.7l.4 .7l.5-.7l.4 1.1l.5-2.3l.4 2.6l.5-2.4l.4 1.8l.5-1.4l.4 1.9l.5-1.5l.4 .9l.5-.6l.4 1.5l.5-1.3l.4 .4l.5-.9l.4 1.9l.5-2.2l.4 2.2l.5-4.9l.4 5l.5-3.7l.4 3.8l.5-3.5l.4 3.2l.5-1.5l.4 1.8l.5-2.3l.4 1.1l.5-1.1l.4 2.1l.5-1.5l.4 1.8l.5-2.3l.4 1.6l.5-1.3l.4 .8l.5-2.4l.4 2.6l.5-3.3l.4 3.8l.5-2l.4 2.5l.5-2.1l.4 2l.5-1.7l.4 1.3l.5-1.6l.4 .9l.5-1l.4 1.8l.5-1.5l.4 1l.5-1.7l.4 2.2l.5-2.1l.4 1.7l.5-2.5l.4 2.9l.5-2.1l.4 1.6l.5-1.1l.4 1l.5-1.5l.4 2.4l.5-2.2l.4 1.3l.5-1.5l.4 1.6l.5-.7l.4 1.4l.5-1.9l.4 2l.5-2.1l.4 1.6l.5-3.2l.4 3.4l.5-4.8l.4 4.3l.5-2.7l.4 3l.5-2.1l.4 2.6l.5-2.1l.4 2l.5-2.3l.4 2.6l.5-2l.4 1.9l.5-1.8l.4 1.3l.5-1.9l.4 2l.5-3.5l.4 4l.5-3.1l.4 1.7l.5-1.1l.4 1.8l.5-1.2l.4 .9l.5-1.2l.4 1.4l.5-1.9l.4 1.8l.5-1.3l.4 1.2l.5-1.7l.4 2.1l.5-2.9l.4 2.5l.5-3.5l.4 3.4l.5-2l.4 2.2l.5-1.2l.4 .9l.5-1l.4 1.4l.5-1.7l.4 1.8l.5-1.4l.4 1.2l.5-1.1l.4 .9l.5-.7l.4 .6l.5-1.4l.4 1.4l.5-2.2l.4 2.6l.5-4.2l.4 3.5l.5-4.2l.4 5.6l.5-4.1l.4 2.7l.5-1.2l.4 1.5l.5-1.3l.4 1.5l.5-1.4l.4 .9l.5-.7l.4 1.2l.5-.7l.4 .2l.5-.9l.4 2.3l.5-3.4l.4 3.1l.5-3.6l.4 3.6l.5-3l.4 2l.5-.8l.4 1.8l.5-1.3l.4 1.5l.5-1.8l.4 .8l.5-.8l.4 1.6l.5-1.9l.4 1.6l.5-1.6l.4 1.9l.5-2.7l.4 2.9l.5-4l.4 3.4l.5-4.2l.4 3.5l.5-2.4l.4 3.2l.5-1.7l.4 .9l.5-1.2l.4 1.4l.5-.7l.4 1.3l.5-2.6l.4 3.1l.5-4.6l.4 4.3l.5-3.1l.4 2.8l.5-1.8l.4 1.1l.5-.5l.4 .8l.5-.9l.4 1.9l.5-2.5l.4 1.7l.5-1.4l.4 1.4l.5-1l.4 1.8l.5-1.6l.4 1.2l.5-2l.4 2.1l.5-2.4l.4 2.1l.5-3.3l.4 3.4l.5-2.4l.4 1.7l.5-1.6l.4 1.9l.5-1.7l.4 1.4l.5-.3l.4 1l.5-1.6l.4 2l.5-1.6l.4 1.1l.5-2.1l.4 1.5l.5-3.1l.4 3.3l.5-3l.4 2.9l.5-2.6l.4 3.4l.5-2.1l.4 1.2l.5-1.4l.4 1.7l.5-.8l.4 .9l.5-1.4l.4 2.3l.5-1.9l.4 1.7l.5-1.9l.4 1.6l.5-2l.4 1.1l.5-3.5l.4 3.6l.5-3.2l.4 4.4l.5-3.2l.4 2.2l.5-1.1l.4 1.2l.5-.8l.4 1.6l.5-1.4l.4 .2l.5-.7l.4 1.6l.5-2.5l.4 2.3l.5-3.1l.4 2.5l.5-2.3l.4 3.4l.5-3.7l.4 3.5l.5-2.5l.4 2.2l.5-1.8l.4 1.9l.5-1.5l.4 1l.5-1.1l.4 1.4l.5-1.7l.4 2.3l.5-2.2l.4 2.5l.5-4l.4 3.6l.5-2.7l.4 2.1l.5-2.2l.4 2.2l.5-1.8l.4 2.5l.5-1.6l.4 1l.5-1l.4 .5l.5-1l.4 2.2l.5-1.7l.4 .9l.5-1l.4 1.6l.5-2.3l.4 1.7l.5-1.5l.4 1.5l.5-1.9l.4 2.7l.5-4.5l.4 3.2l.5-2l.4 2l.5-.7l.4 1.5l.5-1.8l.4 1.6l.5-1.8l.4 1.9l.5-1.4l.4 1.3l.5-.9l.4 1.6l.5-2.1l.4 2.1l.5-3.8l.4 2.8l.5-2.3l.4 2.3l.5-1.9l.4 2l.5-.7l.4 .9l.5-1.4l.4 .8l.5-.9l.4 1.7l.5-1.4l.4 1.7l.5-2.7l.4 1.7l.5-2.8l.4 3.2l.5-3.4l.4 4l.5-2.9l.4 3.2l.5-2.1l.4 1.1l.5-1.1l.4 .9l.5-.7l.4 .8l.5-.9l.4 .7l.5-.8l.4 .9l.5-.6l.4 .7l.5-1.6l.4 2.3l.5-3.2l.4 2.2l.5-2.9l.4 4.2l.5-3.3l.4 2.2l.5-.7l.4 .5l.5-1l.4 2l.5-1.5l.4 .5l.5-1.1l.4 1.2l.5-.8l.4 1.1l.5-2.7l.4 3.5l.5-4.8l.4 4.2l.5-2.2l.4 2.1l.5-.9l.4 1.3l.5-1.6l.4 2.1l.5-2.3l.4 1.9l.5-1.7l.4 1l.5-1.1l.4 1.4l.5-.9l.4 1.6l.5-2.5l.4 2.7l.5-3.2l.4 1.9l.5-2.4l.4 3.5l.5-3.8l.4 3.3l.5-1.8l.4 1.1l.5-.6l.4 .5l.5-.3l.4 1.5l.5-1.8l.4 1.4l.5-1.2l.4 1l.5-1.1l.4 1.2l.5-2.4l.4 3l.5-3.8l.4 3.5l.5-3.2l.4 2.2l.5-2.7l.4 2.7l.5-1.2l.4 2l.5-1.3l.4 1.5l.5-1.9l.4 1.6l.5-1.2l.4 1.8l.5-2.4l.4 2.5l.5-3.7l.4 2.6l.5-3.5l.4 3.2l.5-2.4l.4 2.5l.5-1.6l.4 2.3l.5-1.3l.4 .8l.5-1.4l.4 1.5l.5-.6l.4 1.3l.5-1.6l.4 1.1l.5-1.2l.4 .7l.5-1.2l.4 1.5l.5-2.5l.4 2.4l.5-2.9l.4 2.7l.5-2.7l.4 3.6l.5-2.3l.4 1.3l.5-1.3l.4 1.3l.5-.2l.4 1.2l.5-1.9l.4 2l.5-1.9l.4 2.1l.5-3.2l.4 3.1l.5-3.2l.4 3.3l.5-3.4l.4 2.2l.5-1.5l.4 2.5l.5-1.7l.4 1.5l.5-1.5l.4 .9l.5-.5l.4 1.4l.5-2.2l.4 2.1l.5-1.8l.4 1.5l.5-2.9l.4 2.7l.5-3.2l.4 3.3l.5-3l.4 3.7l.5-3.3l.4 2l.5-.7l.4 1.2l.5-.9l.4 1l.5-1l.4 1.1l.5-1.6l.4 1.8l.5-1.9l.4 1.5l.5-1.9l.4 2.2l.5-4l.4 4l.5-3.9l.4 3.5l.5-1.8l.4 1.4l.5-1.2l.4 2.2l.5-1.8l.4 1.8l.5-2.3l.4 2.6l.5-2.3l.4 1.8l.5-1.9l.4 1l.5-1.2l.4 2.1l.5-3.1l.4 2.3l.5-2.1l.4 2.8l.5-2.5l.4 3.1l.5-3.2l.4 2.3l.5-1.5l.4 1l.5-.9l.4 1.7l.5-1.9l.4 1.8l.5-1l.4 .3l.5-1.2l.4 2.5l.5-2.5l.4 2l.5-2.3l.4 1.8l.5-3l.4 3.5l.5-2.3l.4 2.3l.5-1.7l.4 .9l.5-.3l.4 .8l.5-1l.4 .6l.5-.3l.4 .7l.5-1.2l.4 1.4l.5-1.7l.4 1.1l.5-1.6l.4 2.4l.5-3l.4 2.7l.5-2.9l.4 3l.5-2.8l.4 3.1l.5-1.9l.4 2l.5-2.3l.4 1.6l.5-1.3l.4 1.4l.5-1.6l.4 2l.5-2.7l.4 2l.5-2.4l.4 3.2l.5-4l.4 3l.5-2l.4 2.1l.5-1.3l.4 2.2l.5-1.4l.4 1.6l.5-1.5l.4 1.6l.5-1.8l.4 .6l.5-1l.4 2l.5-1.6l.4 .7l.5-1.5l.4 1.6l.5-3.3l.4 4l.5-3.3l.4 2.3l.5-1.1l.4 2.1l.5-2.2l.4 2.4l.5-1.4l.4 1.2l.5-1.6l.4 1.1l.5-1l.4 1.4l.5-2.1l.4 1.6l.5-1.3l.4 1.2l.5-2.9l.4 2.9l.5-2l.4 2.9l.5-2.2l.4 1.2l.5-.8l.4 1l.5-1l.4 .6l.5-1.3l.4 1.4l.5-1.6l.4 2.7l.5-3.6l.4 2.5l.5-3.8l.4 4.4l.5-3.2l.4 3.8l.5-2.6l.4 1.9l.5-1.9l.4 1.6l.5-1.3l.4 1.7l.5-1.2l.4 .6l.5-.3l.4 .7l.5-1.4l.4 1.6l.5-1.9l.4 1.7l.5-3.2l.4 2.8l.5-3.9l.4 4.2l.5-2.1l.4 2.8l.5-2.5l.4 2.5l.5-2.2l.4 2l.5-1.2l.4 .8l.5-1l.4 1.1l.5-1.5l.4 1.2l.5-1.3l.4 1.6l.5-2l.4 2.3l.5-2.9l.4 2l.5-2l.4 2.4l.5-1.4l.4 1.8l.5-2l.4 1.2l.5-1l.4 1.5l.5-1.4l.4 2l.5-1.9l.4 1.4l.5-2l.4 1.4l.5-2l.4 2.4l.5-2.8l.4 3.4l.5-3.5l.4 3.9l.5-2.9l.4 2.7l.5-1.8l.4 2.1l.5-1.8l.4 .4l.5-.4l.4 1.1l.5-1l.4 .9l.5-1.2l.4 .9l.5-1.4l.4 1.9l.5-4l.4 4.4l.5-4.5l.4 4.2l.5-3.4l.4 2.9l.5-1.3l.4 1.8l.5-1.8l.4 .8l.5-.7" fill="none" stroke="#1f77b4" stroke-width="1.0" stroke-linejoin="round"/></g><path d="M857.5 408.4h-3M857.5 431.1h-3M857.5 453.6h-3M857.5 476.2h-3M901.2 481.0v3M1016.8 481.0v3M1157.0 481.0v3M1272.5 481.0v3M1404.5 481.0v3M1520.0 481.0v3" stroke="#222" stroke-width="0.9" fill="none"/><rect x="857.50" y="388.25" width="695.00" height="92.75" fill="none" stroke="#3a3a3a" stroke-width="0.9"/><g font-family="DejaVu Sans, Liberation Sans, sans-serif" font-size="7.6" fill="#262626" stroke="#262626" stroke-width="0.18"><text x="851.0" y="411.2" text-anchor="end" font-size="7.3">75000</text><text x="851.0" y="433.8" text-anchor="end" font-size="7.3">50000</text><text x="851.0" y="456.4" text-anchor="end" font-size="7.3">25000</text><text x="851.0" y="479.0" text-anchor="end" font-size="7.3">0</text><text x="901.2" y="492.4" text-anchor="middle">2021-05-01</text><text x="1016.8" y="492.4" text-anchor="middle">2021-05-15</text><text x="1157.0" y="492.4" text-anchor="middle">2021-06-01</text><text x="1272.5" y="492.4" text-anchor="middle">2021-06-15</text><text x="1404.5" y="492.4" text-anchor="middle">2021-07-01</text><text x="1520.0" y="492.4" text-anchor="middle">2021-07-15</text><rect x="1436.2" y="393.2" width="112.0" height="13.8" rx="1.6" fill="#fff" fill-opacity="0.8" stroke="#ccc" stroke-width="0.7"/><path d="M1439.1 400.1h16.6" stroke="#1f77b4" stroke-width="1.5" stroke-opacity="0.8"/><text x="1461.7" y="402.9">8D0E90_7C6A6_TRX1</text></g></g>
<g><rect x="857.50" y="499.25" width="695.00" height="91.25" fill="#fff" stroke="none"/><g clip-path="none"><rect x="888.0" y="572.7" width="209.3" height="14.5" fill="#1f77b4"/><rect x="1102.4" y="572.7" width="281.0" height="14.5" fill="#1f77b4"/><rect x="1430.1" y="572.7" width="90.4" height="14.5" fill="#1f77b4"/><path d="M1097 586.5H1103M1383 586.5H1431" stroke="#1f77b4" stroke-width="1.1"/><path d="M888.5 574.9l.4-30.9l.4 40.9l.4-44.3l.4 39.6l.4-37.1l.4 37.9l.4-16l.4 11.3l.4-14.6l.4 21.7l.4-12.9l.4 10.3l.4-26.9l.4 30l.4-17.7l.4 8.5l.4-19.7l.4 25l.4-36.2l.4 31l.4-28.7l.4 33.3l.4-23.2l.4 19.6l.4-21.6l.4 23.3l.4-23.6l.4 24.6l.4-15.7l.4 16.6l.4-4.1l.4 9.5l.4-9.6l.4 8.1l.4-23.4l.4 16l.1-47.9l.3 50.8l.4 5.2l.4-22.5l.4 21.5l.4-31.1l.4 30.8l.4-27l.4 25.5l.4-18.9l.4 18.2l.4-22.9l.4 21.1l.4-17.7l.4 13.9l.4-9.2l.4 10.6l.4-4.8l.4 3.5l.4-2.5l.4 8.6l.4-15.4l.4 10l.4-12.1l.4 14.6l.4-22.9l.4 24.4l.4-36.5l.4 36.2l.4-27.1l.4 29.9l.4-25l.4 21.6l.4-23l.4 21.5l.4-14.6l.4 14.8l.4-7.4l.4 14.7l.4-17.3l.4 15.8l.4-15.6l.4 8.3l.4-7.8l.4 8.6l.4-11.7l.4 15.7l.4-17l.4 18.3l.4-31.1l.4 33.7l.4-24.4l.4 20.3l.4-21.8l.4 21.1l.4-17.8l.4 20.8l.4-12.2l.4 7.3l.4-3.6l.4 6.9l.1-76.2l.3 73.7h.4l.4-21.7l.4 20.2l.4-18.2l.4 19.9l.4-25.5l.4 22.1l.4-20.7l.4 27.4l.4-24.7l.4 23.6l.4-21l.4 15.4l.4-13.9l.4 20.1l.4-13.9l.4 16l.4-8.8l.4 3.9l.4-9.5l.4 12.1l.4-22.2l.4 25.4l.4-25.7l.4 20.9l.4-24.1l.4 20.5l.4-20.1l.4 25l.4-29.7l.4 28.4l.4-28.4l.4 29.8l.4-20.5l.4 18.5l.4-14l.4 9.6l.4-2l.4 3.9l.4-8.7l.4 10.4l.4-9.3l.4 6.9l.4-8.6l.4 9.1l.4-23.3l.4 24.9l.4-20.1l.4 17.1l.4-13.8l.4 13.2l.4-10.2l.4 18.1l.4-20.1l.4 18.8l.4-14.7l.4 10.6l.4-5.5l.4 11.3l.4-14l.4 10.8l.4-18.2l.4 17.9l.4-18.2l.4 17.1l.4-30.5l.4 36.2l.4-35.5l.4 34.3l.4-17.3l.4 13.5l.4-14.6l.4 13.6l.4-15.1l.4 14l.4-15.3l.4 20.2l.4-5.9l.4 7.8l.4-10.9l.4 9.9l.4-10l.4 5.4l.4-8.8l.4 11.1l.4-17.6l.4 12.8l.4-13.9l.4 21.1l.4-18.6l.4 17.5l.4-15.3l.4 13.9l.4-15.6l.4 15.7l.4-18.4l.4 19.6l.4-14.6l.4 14.1l.4-9.6l.4 11.7l.4-17.6l.4 12.5l.4-14.2l.4 14.5l.4-26.2l.4 27.8l.4-37.1l.4 33.3l.4-22.3l.4 29.5l.4-24.4l.4 16.4l.4-11.6l.4 19.7l.4-11.1l.4 5.8l.4-8.3l.4 9l.4-5.7l.4 5.2l.4-2.6l.4-1.1l.4-11.9l.4 20l.4-20.3l.4 18.4l.4-22.4l.4 25.7l.4-27.8l.4 22.2l.4-23.7l.4 28.1l.4-19.9l.4 13.7l.4-10.2l.4 10l.4-7.5l.4 7.3l.4-13.6l.4 16.7l.4-11l.4 10.4l.4-6.3l.4 8.3l.4-11.4l.4 12.8l.4-11.4l.4 4.3l.4-9.7l.4 18.2l.4-17.8l.4 12.6l.4-22.3l.4 19.4l.4-12.9l.4 14.6l.4-7l.4 8l.4-6.6l.4 13l.4-15.4l.4 8.3l.4-9.9l.4 15.1l.4-11.7l.4 6.9l.4-16.5l.4 20.8l.4-31.9l.4 32l.4-17.4l.4 11.9l.4-12l.4 15.8l.4-8.1l.4 9.2l.4-8.9l.4 6.4l.4-4l.4 3l.4-9.8l.4 12.6l.4-9.6l.4 6.8l.4-13.6l.4 18.1l.4-19.4l.4 18.7l.4-16.7l.4 10.7l.4-14.3l.4 15.7l.4-17.7l.4 24.9l.4-13.8l.4 13.5l.4-19.7l.4 17.3l.4-14.2l.4 14.7l.4-7.4l.4 3.2l.4-3.4l.4 1.9l.4-11.1l.4 12.4l.4-13.2l.4 10.6l.4-10.1l.4 15l.4-27.1l.4 23.4l.4-13.5l.4 13.7l.4-14.1l.4 16l.4-17l.4 23l.4-15.3l.4 15.3l.4-12l.4 12l.4-10.5l.4 9.4l.4-11.3l.4 8.9l.4-12.4l.4 8.4l.4-14.9l.4 17.7l.4-14.5l.4 9.8l.4-15l.4 23.2l.4-31.3l.4 29.3l.4-19.2l.4 21.9l.4-18.8l.4 16.8l.4-12.3l.4 12l.4-6l.4-1.3l.4 .5l.4 8.4l.4-13l.4 4.6l.4-3.9l.4 4.8l.4-7.4l.4 13.9l.4-21.7l.4 20l.4-18l.4 17.3l.4-13.3l.4 10.4l.4-7.8l.4 13.7l.4-18.7l.4 17.8l.4-8.3l.4 1.9l.4-9l.4 7.8l.4-13.8l.4 14.2l.4-19.2l.4 24.1l.4-22.5l.4 27.1l.4-22.6l.4 22.6l.4-23.9l.4 22.4l.4-15.5l.4 12.2l.4-13l.4 11.9l.4-7.4l.4 7.2l.4-8.8l.4 11.4l.4-8.8l.4 12.3l.4-15.2l.4 8.2l.4-10.9l.4 10.7l.4-8l.4 6.1l.4-11.7l.4 18.7l.4-30l.4 30.1l.4-20.6l.4 17.5l.4-8.4l.4 4.7l.4-2.9l.4 6.4l.4-7.1l.4 4.9l.4-.6l.4 8.2l.4-10.2l.4 1.8l.4-7.8l.4 9.8l.4-15.3l.4 12l.4-8.9l.4 14.3l.4-19.3l.4 14.1l.4-19.2l.4 26l.4-23.5l.4 19.4l.4-16.2l.4 20.1l.4-13.6l.4 16.4l.4-17.7l.4 17.8l.4-18.2l.4 11.5l.4-11.5l.4 13.4l.4-23.5l.4 24.1l.4-21.1l.4 21.7l.4-34.4l.4 37.8l.4-26.4l.4 18l.4-10.5l.4 14.2l.4-18.3l.4 20.9l.4-17.5l.4 18.3l.4-8.6l.4 9.8l.4-17.1l.4 10.1l.4-5.8l.4 10.1l.4-10.7l.4 7.1l.4-10.9l.4 11.4l.4-12.8l.4 10.3l.4-8.2l.4 10.6l.4-15l.4 17l.4-15.3l.4 17.3l.4-14.9l.4 12.5l.4-14.2l.4 14.3l.4-9.4l.4 5l.4-9.4l.4 15.5l.4-18l.4 18l.4-23.3l.4 20.6l.4-22l.4 17.4l.4-19.9l.4 26.7l.4-28.5l.4 21.9l.4-12l.4 13.3l.4-15.5l.4 17.4l.4-8.7l.4 6.4l.4 .6l.4-1l.4-11.1l.4 13.6l.4-16.7l.4 14l.4-9.4l.4 13.3l.4-36.7l.4 37l.4-22.3l.4 27.4l.4-21.3l.4 21.6l.4-20.9l.4 18.2l.4-16.9l.4 15l.4-6.3l.4 4.1l.4-9.6l.3-31.7l.1 48.1l.4-15l.4 9.3l.4-13.8l.4 15.3l.4-16.9l.4 13.2l.4-21.2l.4 23.5l.4-17.5l.4 22.6l.4-32.4l.4 26.6l.4-27.8l.4 31.8l.4-21.3l.4 13.7l.4 11.6h.4h.4h.4h.4h.4h.4h.4h.4h.4h.4l.4-7.1l.4-29.3l.4 31.7l.4-20.9l.4 16l.4-19.7l.4 24.2l.4-16.6l.4 18.2l.4-12.2l.4 4.4l.4-6.6l.4 16.1l.4-15.8l.4 14.7l.4-9.9l.4 6.6l.4-8l.4 3.5l.4-6.2l.4 10.5l.4-16.2l.4 11.3l.4-15.8l.4 16.5l.4-13l.4 19.4l.4-20.9l.4 13.8l.4-15.8l.4 18.7l.4-17.6l.4 18l.4-7.3l.4 12.3l.4-11.2l.4 12.5l.4-17.2l.4 8.9l.4-9.2l.4 13.7l.4-19l.4 13.1l.4-11.2l.4 17.9l.4-28.7l.4 30.3l.4-25.4l.4 22.7l.4-19.1l.4 16.4l.4-18.8l.4 22.6l.4-12.5l.4 14.9l.4-14.4l.4 13.5l.4-12l.4 4.4l.4-5.4l.4 8.8l.4-10.1l.4 15l.4-22.5l.4 21.3l.4-16.3l.4 14.5l.4-20.8l.4 16.2l.4-12.2l.4 20.6l.4-15l.4 5.5l.4-9.2l.4 15.6l.4-10.5l.4 12l.4-11.3l.4 9.2l.4-11.3l.4 11.8l.4-18.8l.4 15.9l.4-26.7l.4 30.6l.4-28.1l.4 28.4l.4-40.7l.4 36.7l.4-37.6l.4 37.2l.4-32.6l.4 31.8l.4-25.2l.4 24.2l.4-16.1l.4 17.7l.4-14.3l.4 20.9l.4-24.6l.4 22.9l.4-49.5l.4 49.5l.4-40.5l.4 34.6l.4-23.9l.4 24.8l.4-40.2l.4 44.5l.4-20l.4 13.6l.4-49.6v56.4l.4-3.2l.4-12.3l.4 10.5l.4-8.2l.4 14.9l.4-11.4l.4 3.4l.4-9.6l.4 8.1l.4-16.3l.4 23.4l.4-21.8l.4 24.3l.4-28.6l.4 19.6l.4-40.3l.4 47.9l.4-39.4l.1-10.3l.3 44.6l.4-17.3l.4 18.5l.4-17.7l.4 21.6l.4-15.3l.4 14.4l.4-8.7l.4 7.1l.4-10.8l.4 6.4l.4-6.5l.4 10.5l.4-16.6l.4 18.1l.4-24.2l.4 22.1l.4-27.4l.4 29.5l.4-34.1l.4 31.3l.4-32.6l.4 34.6l.4-28.4l.4 30.1l.4-31.2l.4 23.8l.4-14.1l.4 19.6l.4-9l.4 4.9l.4-11.3l.4 10l.4-15.7l.4 22.8l.4-33.6l.4 29.4l.4-35.3l.4 40.2l.4-32.2l.4 26.1l.4-22.1l.4 20.4l.4-22.7l.4 22.8l.4-16.4l.4 17.7l.4-13.7l.4 13.1l.4-14.1l.4 12.8l.4-.2l.4 4.9l.4-11.4l.4 12.1l.4-16.4l.4 10.8l.4-17.4l.4 20.3l.4-15.5l.4 17l.4-35.6l.4 37.1l.4-23.6l.4 18.4l.4-21.6l.4 23.5l.4-12.8l.4 13.2l.4-7.4l.4 13.4l.4-12.5l.4 13.6l.4-22.7l.4 15.8l.4-12.4l.4 15.6l.4-14.9l.4 15.5l.4-39l.4 32.2l.4-18.4l.4 24.8l.4-16.8l.4 18.7l.4-27.7l.4 26l.4-9.5l.4 10.2l.4-10.7l.4 3.4h.4l.4 4l.4-8.4l.4 11l.4-18.4l.4 19l.4-23.3l.4 24.4l.4-30.1l.4 21.5l.4-26.4l.4 30.3l.4-15.2l.4 16.7l.4-19.8l.4 15.7l.4-9.6l.4 13.5l.4-7.8l.4 10.5l.4-22.8l.4 21.9l.4-27.1l.4 21.2l.4-18.2l.4 24.2l.4-33.2l.4 33.4l.4-33.3l.4 34.6l.4-30.1l.4 29.8l.4-34.6l.4 33.3l.4-19.8l.4 13.5l.4-7.6l.4 16.6l.4-12.9l.4 11l.4-16.1l.4 17.2l.4-16.1l.4 11.3l.4-16.6l.4 17.7l.4-24.9l.4 20.1l.4-34.1l.4 41.7l.4-43.1l.4 43.1l.4-23l.4 18.1l.4-16.2l.4 17.2l.4-15.1l.4 17.9l.4-14.6l.4 13.6l.4-9.4l.4 7.2l.4-12l.4 13.5l.4-11.4l.4 11.4l.4-13.4l.4 8.4l.4-25.1l.4 26.2l.4-35.3l.4 40l.4-40.3l.4 37.2l.4-17.6l.4 24.4l.4-28.6l.4 26.2l.4-11.7l.4 11.3l.4-10.6l.4 6.2l.4-9.9l.4 9l.4-15.7l.4 14.4l.4-15l.4 18.9l.4-30.2l.4 32.7l.4-32.9l.4 32.5l.4-25l.4 21.3l.4-23.2l.4 29.6l.4-12.7l.4 10.9l.4-11.2l.4 12.2l.4-11.9l.4 4.4l.4-1.1l.4 5.1l.4-6.1l.4 7.4l.4-10.9l.4 13.8l.4-28.1l.4 26.6l.4-28.2l.4 25.1l.4-37.1l.4 42.6l.4-43l.4 33.6l.4-19l.4 26l.4-21.8l.4 16.1l.4-8l.4 15.8l.4-14.6l.4 15.3l.4-15l.4 5.3l.4-2.3l.4 9.4l.4-17.4l.4 11.4l.4-13.3l.4 18.1l.4-18.7l.4 20.5l.4-39.3l.4 31.1l.4-33.9l.4 42.9l.4-32.5l.4 31.4l.4-21.5l.4 14.8l.4-16.1l.4 19.5l.4-6.1l.4 7l.4-19.9l.4 24.4l.4-34.7l.4 32.4l.4-23.9l.4 18l.4-34.2l.4 34.5l.4-40l.4 44.5l.4-35.7l.4 35.3l.4-24.2l.4 28.1l.4-23l.4 19.3l.4-17.1l.4 16.2l.4-8.3l.4 9.4l.4-23.3l.4 22.9l.4-27.9l.4 25.7l.4-32.4l.4 36.5l.4-26.6l.4 23.9l.4-28.6l.4 30.8l.4-50.5l.4 43.2l.4-14.1l.4 17.2l.4-22.7l.4 20.9l.4-6.3l.4 12.7l.4-7.6l.4 8l.4-14.9l.4 11.4l.4-18.8l.4 19.6l.4-28.3l.4 26.7l.4-35.9l.4 39.6l.4-34.1l.4 33.6l.4-39.2l.4 38.3l.4-29.8l.4 32.2l.4-33l.4 25.5l.4-24.8l.4 32.3l.4-26.7l.4 23l.4-6.5l.4 10.5l.4-18.2l.4 15.2l.4-17.1l.4 11.3l.4-18.2l.4 24.1l.4-40.4l.4 36.6l.4-25.6l.4 24l.4-22.3l.4 30.5l.4-32.8l.4 26.3l.4-16.8l.4 20.8l.4-20.6l.4 21.4l.4-16.3l.4 14.6l.4-26.4l.4 27.2l.4-29.6l.4 23.8l.4-43.8l.4 43.8l.4-41.6l.4 41.8l.4-17.4l.4 22.5l.4-31.2l.4 35.1l.4-27.4l.4 24.2l.4-14.2l.4 15.3l.4-8l.4 8.1l.4-21.7l.4 16.5l.4-18l.4 20l.4-22l.4 19.9l.4-23.4l.4 30.2l.4-41.4l.4 35.4l.4-16.6l.4 13.7l.4-11.9l.4 12.8l.4-14.5l.4 17.8l.4-9.1l.4 12l.4-9.3l.4 12l.4-16.3l.4 15.7l.4-21.1l.4 18.3l.4-27.7l.4 27.4l.4-29.3l.4 28.4l.4-20.3l.4 21.1l.4-38.3l.4 40.2l.4-36l.4 32.2l.4-15.6l.4 19.2l.4-23.2l.4 15.5l.4-8.1l.4 8.9l.4-4.3l.4 4l.4-5.5l.4 5.9l.4-5l.4 6l.4-19.3l.4 23.5l.4-29.3l.4 29.1l.4-25.8l.4 27.8l.4-30.9l.4 29.9l.4-21.8l.4 23.7l.4-30.2l.4 22.8l.4-20.8l.4 28.3l.4-21.6l.4 12.4l.4-2.8l.4 7.5l.4-21.6l.4 20.6l.4-19.1l.4 24.6l.4-26.4l.4 26.1l.4-31.1l.4 25.9l.4-28.3l.4 29.2l.4-27.6l.4 25.8l.4-17.9l.4 23.3l.4-12.4l.4 8.2l.4-4.1l.4 4.1l.4-18.9l.4 15.4l.4-4l.4 7.6l.4-10.7l.4 7.6l.4-18.3l.4 21.6l.4-26.2l.4 29.3l.4-29.4l.4 28.4l.4-46.7l.4 44.8l.4-28.1l.4 27.2l.4-32.2l.4 33.2l.4-22.8l.4 20.3l.4-12.1l.4 14.4l.4-17l.4 21.6l.4-23.7l.4 22.3l.4-34.2l.4 26.8l.4-28.7l.4 28.4l.4-37l.4 46.5l.4-45.9l.4 42.1l.4-33.7l.4 28.9l.4-15.5l.4 22.6l.4-20.7l.4 21.7l.4-8.4l.4 5.2l.4-11.9l.4 6.1l.4-6.3l.4 13.5l.4-37.5l.4 32l.4-27.3l.4 29.6l.4-27.8l.4 29l.4-39.4l.4 40l.4-38.3l.4 35.6l.4-42.4l.4 39.5l.4-26.8l.4 28.7l.4-20.7l.4 20.9l.4-11l.4 12.4l.4-8.2l.4 8.9l.4-17l.4 14.3l.4-16.9l.4 21.6l.4-22l.4 21.7l.4-33.6l.4 30.1l.4-41.8l.4 48.6l.4-41.1l.4 37.4l.4-28.8l.4 30.1l.4-22.6l.4 17.6l.4-14.2l.4 21.7l.4-16.9l.4 13.3l.4-24.2l.4 25.8l.4-29.7l.4 32l.4-27.3l.4 17.5l.4-18.3l.4 22.6l.4-24.4l.4 28.3l.4-20.3l.4 20.4l.4-13.7l.4 15l.4-14.2l.4 7.8l.4-6.5l.4 9.1l.4-14.2l.4 9.2l.4-3.4l.4 9.1l.4-11.6l.4 13.9l.4-29.8l.4 21.2l.4-17.6l.4 20.9l.4-19.1l.4 19.5l.4-23.4l.4 21.9l.4-23l.4 23l.4-13.3l.4 13.6l.4-11.7l.4 10.4l.4-11.7l.4 15.4l.4-13.9l.4 18.3l.4-16.6l.4 13.1l.4-20.3l.4 19.7l.4-41.3l.4 45.9l.4-46.5l.4 41l.4-13.2l.4 9.1l.4-9.7l.4 10l.4-6.4l.4 7.5l.4-3.7l.4 2.6l.4-7.1l.4 15.2l.4-14.1l.4 13.2l.4-25.4l.4 24.7l.4-26l.4 28.8l.4-29.5l.4 25.1l.4 6.2h.4h.4h.4h.4h.4h.4h.4h.4h.4h.4h.4h.4h.4h.4h.4h.4h.4h.4h.4h.4h.4h.4h.4h.4h.4h.4h.4h.4h.4h.4h.4h.4h.4h.4h.4h.4h.4h.4h.4h.4h.4h.4h.4h.4h.4h.4h.4h.4h.4h.4h.4h.4h.4h.4h.4h.4h.4h.4h.4h.4h.4h.4h.4h.4h.4h.4h.4h.4h.4h.4h.4h.4h.4h.4h.4h.4h.4h.4h.4h.4h.4h.4h.4h.4h.4h.4h.4h.4h.4h.4h.4h.4h.4h.4h.4h.4h.4h.4h.4h.4h.4h.4h.4h.4h.4h.4h.4h.4h.4h.4h.4h.4h.4h.4h.4l.4-11.5l.4 9.5l.4-12.8l.4 10.2l.1-64.1l.3 57.5l.4 2.9l.4-17.7l.4 20l.4-28.3l.4 31.8l.4-29.3l.4 21.8l.4-15.4l.4 21.3l.4-35.1l.4 34.2l.4-26.9l.4 22.4l.4-12.5l.4 20l.2-80.9l.2 71.2l.4 1.7l.4-2.5l.4 6.7l.4-9.3l.4 6.4l.4-17.5l.4 21.4l.4-23l.4 21.1l.4-27.6l.4 24.6l.4-32.4l.4 36l.4-23.5l.4 19.1l.4-12l.4 16.7l.4-27l.4 27.7l.4-13.6l.4 7.1l.4-1.5l.4 9.2l.4-9.1l.4 10.9l.4-18.1l.4 13.4l.4-18.5l.4 17.5l.4-28.1l.4 31.1l.4-34.7l.4 29.8l.4-29.4l.4 35.4l.4-17.9l.4 18.2l.4-25.9l.4 25l.4-12.8l.4 10l.4-10.6l.4 9.4l.4-7.8l.4 14.2l.4-26l.4 19.7l.4-23.4l.4 21.2l.4-25.6l.4 28.4l.4-32.5l.4 32.4l.4-27.7l.4 25.4l.4-17.3l.4 18.6l.4-11.9l.4 12.1l.4-12.3l.4 12.3l.4-13.3l.4 17.1l.4-15.7l.4 18.7l.4-23.3l.4 13.2l.4-18.2l.4 25.5l.4-32.2l.4 24.9l.4-21.3l.4 28.2l.4-24.9l.4 25l.4-18.2l.4 19.5l.4-16.8l.4 10.2l.4-5.9l.4 4.5l.4-4.5l.4 10.6l.4-10.8l.4 9.2l.4-20.4l.4 20.2l.4-20l.4 16.7l.4-24.6l.4 30.6l.4-46.5l.4 46l.4-22.3l.4 16.2l.4-14.4l.4 16.1l.4-19.3l.4 18.2l.4-6.4l.4 8.6l.4-9.1l.4 12.6l.4-10.7l.4 7.9l.4-11.4l.4 17l.4-17.4l.4 14.7l.4-18l.4 20.4l.4-34.1l.4 25.3l.4-21.2l.4 22.9l.4-30.5l.4 33.3l.4-34.5l.4 34.7l.4-21.7l.4 20.2l.4-12.4l.4 10.9l.4-10.6l.4 10.8l.4-16.3l.4 23.8l.4-22.8l.4 14.3l.4-17.7l.4 16.2l.4-14.1l.4 14.8l.4-23l.4 25.9l.4-15.7l.4 14.2l.4-8.4l.4 6.3l.4-.4l.4 .3l.4-3.2l.4 3.8l.4-5.7l.4 13.3l.4-23.1l.4 15.7l.4-15.4l.4 24.4l.4-26.6l.4 22.9l.4-18.6l.4 20.8l.4-30.3l.4 28.6l.4-23.8l.4 24.5l.4-20l.4 13.5l.4-11.2l.4 11.6l.4-3.3l.4 7.5l.4-10.8l.4 11.8l.4-15.5l.4 14.8l.4-33.1l.4 32.3l.4-35.2l.4 30.6l.4-34.5l.4 37.4l.4-27.7l.4 27.5l.4-27l.4 29l.4-28.2l.4 31.4l.4-17.1l.4 14.4l.4-10.2l.4 10.3l.4-14.2l.4 18.6l.3-55.9l.1 50.7l.4-1.8l.4-20.9l.4 20.3l.4-31.3l.4 33.5l.4-35.4l.4 36l.1-56.6l.3 53.8l.4-.9l.4-18.6l.4 26.2l.4-31.4l.4 23.8l.4-8.4l.4 10.2l.4-11.6l.4 18.1l.4-11.7l.4 10.4" fill="none" stroke="#1f77b4" stroke-width="1.05" stroke-linejoin="round"/><path d="M1323.5 587.4l2 -2.6h4l2 2.6z" fill="#fff"/></g><path d="M857.5 507.5h-3M857.5 527.2h-3M857.5 547.0h-3M857.5 566.8h-3M857.5 586.5h-3M901.2 590.5v3M1016.8 590.5v3M1157.0 590.5v3M1272.5 590.5v3M1404.5 590.5v3M1520.0 590.5v3" stroke="#222" stroke-width="0.9" fill="none"/><rect x="857.50" y="499.25" width="695.00" height="91.25" fill="none" stroke="#3a3a3a" stroke-width="0.9"/><g font-family="DejaVu Sans, Liberation Sans, sans-serif" font-size="7.6" fill="#262626" stroke="#262626" stroke-width="0.18"><text x="851.0" y="510.2" text-anchor="end" font-size="7.3">10000</text><text x="851.0" y="530.0" text-anchor="end" font-size="7.3">7500</text><text x="851.0" y="549.8" text-anchor="end" font-size="7.3">5000</text><text x="851.0" y="569.5" text-anchor="end" font-size="7.3">2500</text><text x="851.0" y="589.2" text-anchor="end" font-size="7.3">0</text><text x="901.2" y="601.9" text-anchor="middle">2021-05-01</text><text x="1016.8" y="601.9" text-anchor="middle">2021-05-15</text><text x="1157.0" y="601.9" text-anchor="middle">2021-06-01</text><text x="1272.5" y="601.9" text-anchor="middle">2021-06-15</text><text x="1404.5" y="601.9" text-anchor="middle">2021-07-01</text><text x="1520.0" y="601.9" text-anchor="middle">2021-07-15</text><rect x="1148.2" y="502.5" width="112.3" height="14.5" rx="1.6" fill="#fff" fill-opacity="0.8" stroke="#ccc" stroke-width="0.7"/><path d="M1151.1 509.8h16.6" stroke="#1f77b4" stroke-width="1.5" stroke-opacity="0.8"/><text x="1173.7" y="512.5">8D0E90_7C6A6_TRX4</text></g></g>
<g><rect x="857.50" y="609.50" width="695.00" height="91.50" fill="#fff" stroke="none"/><g clip-path="none"><path d="M888.5 697h96l.3-83.7l.2 83.7h535" fill="none" stroke="#1f77b4" stroke-width="1.3" stroke-linejoin="round"/></g><path d="M857.5 632.0h-3M857.5 664.5h-3M857.5 697.0h-3M901.2 701.0v3M1016.8 701.0v3M1157.0 701.0v3M1272.5 701.0v3M1404.5 701.0v3M1520.0 701.0v3" stroke="#222" stroke-width="0.9" fill="none"/><rect x="857.50" y="609.50" width="695.00" height="91.50" fill="none" stroke="#3a3a3a" stroke-width="0.9"/><g font-family="DejaVu Sans, Liberation Sans, sans-serif" font-size="7.6" fill="#262626" stroke="#262626" stroke-width="0.18"><text x="851.0" y="634.8" text-anchor="end" font-size="7.3">4000</text><text x="851.0" y="667.2" text-anchor="end" font-size="7.3">2000</text><text x="851.0" y="699.8" text-anchor="end" font-size="7.3">0</text><text x="901.2" y="712.4" text-anchor="middle">2021-05-01</text><text x="1016.8" y="712.4" text-anchor="middle">2021-05-15</text><text x="1157.0" y="712.4" text-anchor="middle">2021-06-01</text><text x="1272.5" y="712.4" text-anchor="middle">2021-06-15</text><text x="1404.5" y="712.4" text-anchor="middle">2021-07-01</text><text x="1520.0" y="712.4" text-anchor="middle">2021-07-15</text><rect x="1436.2" y="613.5" width="112.0" height="14.0" rx="1.6" fill="#fff" fill-opacity="0.8" stroke="#ccc" stroke-width="0.7"/><path d="M1439.1 620.5h16.6" stroke="#1f77b4" stroke-width="1.5" stroke-opacity="0.8"/><text x="1461.7" y="623.3">8D1040_CRX1_BATCH</text></g></g>
<g><rect x="857.50" y="720.00" width="695.00" height="91.75" fill="#fff" stroke="none"/><g clip-path="none"><rect x="888" y="723.2" width="632.6" height="85.6" fill="#1f77b4"/><path d="M1509.5 723.5V808.5" stroke="#8fbbd9" stroke-width="0.5"/></g><path d="M857.5 724.0h-3M857.5 745.0h-3M857.5 766.0h-3M857.5 787.0h-3M857.5 808.0h-3M901.2 811.8v3M1016.8 811.8v3M1157.0 811.8v3M1272.5 811.8v3M1404.5 811.8v3M1520.0 811.8v3" stroke="#222" stroke-width="0.9" fill="none"/><rect x="857.50" y="720.00" width="695.00" height="91.75" fill="none" stroke="#3a3a3a" stroke-width="0.9"/><g font-family="DejaVu Sans, Liberation Sans, sans-serif" font-size="7.6" fill="#262626" stroke="#262626" stroke-width="0.18"><text x="851.0" y="726.8" text-anchor="end" font-size="7.3">0.00</text><text x="851.0" y="747.8" text-anchor="end" font-size="7.3">−0.25</text><text x="851.0" y="768.8" text-anchor="end" font-size="7.3">−0.50</text><text x="851.0" y="789.8" text-anchor="end" font-size="7.3">−0.75</text><text x="851.0" y="810.8" text-anchor="end" font-size="7.3">−1.00</text><text x="901.2" y="823.1" text-anchor="middle">2021-05-01</text><text x="1016.8" y="823.1" text-anchor="middle">2021-05-15</text><text x="1157.0" y="823.1" text-anchor="middle">2021-06-01</text><text x="1272.5" y="823.1" text-anchor="middle">2021-06-15</text><text x="1404.5" y="823.1" text-anchor="middle">2021-07-01</text><text x="1520.0" y="823.1" text-anchor="middle">2021-07-15</text><rect x="1430.5" y="758.0" width="117.7" height="15.2" rx="1.6" fill="#fff" fill-opacity="0.8" stroke="#ccc" stroke-width="0.7"/><path d="M1433.4 765.6h16.6" stroke="#1f77b4" stroke-width="1.5" stroke-opacity="0.8"/><text x="1456.0" y="768.4">8D1040_CRX1_BIODDF</text></g></g>
<polygon points="1559.1,845.6 1576.6,853.3 1580.5,868.5 1568.8,883.3 1549.8,883.3 1538.1,868.5 1541.6,853.3" fill="#fff" stroke="#000" stroke-width="1.5" stroke-dasharray="4.2 2.2"/>
<g fill="none" stroke="#c4c4c4" stroke-opacity="0.7" stroke-width="1.2"><circle cx="19.5" cy="880.1" r="14.2"/><circle cx="58.6" cy="880.1" r="14.2"/><circle cx="97.7" cy="880.1" r="14.2"/><circle cx="136.9" cy="880.1" r="14.2"/><circle cx="176.2" cy="880.1" r="14.2"/><circle cx="215.3" cy="880.1" r="14.2"/><circle cx="254.7" cy="880.1" r="14.2"/><path d="M14.6 880.6L22 875.3V886.1Z" stroke-width="1.1"/><rect x="134.2" y="878.2" width="11" height="10" stroke-width="1.2"/><circle cx="174.2" cy="877.8" r="5.2" stroke-width="1.5"/><path d="M178 881.8L184 887.6" stroke-width="2.2" stroke-linecap="round"/><rect x="207.6" y="873.8" width="16" height="13.2" stroke-width="1.1"/><path d="M210.5 883.4h10.5" stroke-dasharray="2 1" stroke-width="1.1"/></g><g fill="#fff" fill-opacity="0.42" stroke="#c8c8c8" stroke-opacity="0.6" stroke-width="0.8"><path d="M56.3 875.2V886.2L63.8 880.7Z"/><path d="M104.6 872.2l2 2L93 887.3l-3.6 1.8 1.7-3.7z"/><rect x="128.9" y="872.9" width="5.2" height="3.8"/><rect x="136.8" y="872.9" width="5.2" height="2.4"/><rect x="128.4" y="880.4" width="3.4" height="4.2"/><rect x="134.8" y="878.8" width="9.8" height="8.8"/><rect x="208.2" y="874.4" width="14.8" height="12"/></g><g fill="#c8c8c8" fill-opacity="0.75"><path d="M104.6 872.2l2 2L93 887.3l-3.6 1.8 1.7-3.7z" fill-opacity="0.5"/><circle cx="249.2" cy="880.4" r="1.5"/><circle cx="254.8" cy="880.4" r="1.5"/><circle cx="260.5" cy="880.4" r="1.5"/></g>
</svg>
<div class="abs" id="title">METHODOLOGY</div>
<div class="abs" id="code">MMBD1116</div>
<div class="abs" id="h1">Determining the degree of the metrics variability</div>
<div class="abs" id="formula"><i style="left:223.2px;transform:scaleX(0.9)">D</i><i style="left:241.8px;font-size:21px;top:11.5px;transform:scaleX(1.05)">V</i><span style="left:259.6px;transform:scaleX(1.1)">(</span><i style="left:268.6px;transform:scaleX(1.28)">t</i><span style="left:282.6px;transform:scaleX(1.1)">)</span><span style="left:304.7px;transform:scaleX(1.33)">=</span><i style="left:342.0px">Y</i><span style="left:361.4px;transform:scaleX(1.1)">(</span><i style="left:373.2px;transform:scaleX(1.28)">t</i><span style="left:392.9px;transform:scaleX(1.33)">+</span><span style="left:423.0px">1</span><span style="left:439.3px;transform:scaleX(1.1)">)</span><span style="left:456.9px;transform:scaleX(1.42)">−</span><i style="left:486.0px">Y</i><span style="left:506.4px;transform:scaleX(1.1)">(</span><i style="left:517.9px;transform:scaleX(1.28)">t</i><span style="left:531.6px;transform:scaleX(1.1)">)</span><span style="left:543.0px">,</span></div>
<div class="abs" id="body1">where: <i>Y</i>(<i>t</i>) is the value of metrics in <i class="m">t</i> – time, <i>Y</i>(<i>t</i>+1) is the next value of metrics in <i class="m">t</i> – time.</div>
<div class="tc h" style="left:847.5px;top:174.2px;width:245.0px;height:42.5px;line-height:42.5px"><span style="top:1.9px">Modal value x for 0</span></div>
<div class="tc h" style="left:1094.2px;top:174.2px;width:129.8px;height:42.5px;line-height:42.5px"><span style="top:1.9px">Category</span></div>
<div class="tc h" style="left:1225.8px;top:174.2px;width:340.2px;height:42.5px;line-height:42.5px"><span style="top:1.9px">Changes of values in metrics</span></div>
<div class="tc h" style="left:847.5px;top:222.0px;width:245.0px;height:35.8px;line-height:35.8px"><span style="top:0.9px">More than 99.9%</span></div>
<div class="tc a" style="left:1094.2px;top:222.0px;width:129.8px;height:35.8px;line-height:35.8px"><span style="top:0.9px">A</span></div>
<div class="tc a" style="left:1225.8px;top:222.0px;width:340.2px;height:35.8px;line-height:35.8px"><span style="top:0.9px">&lt; 1.5 per day</span></div>
<div class="tc h" style="left:847.5px;top:260.0px;width:245.0px;height:32.5px;line-height:32.5px"><span style="top:0.9px">99.9% ≤ x &lt; 99%</span></div>
<div class="tc b" style="left:1094.2px;top:260.0px;width:129.8px;height:32.5px;line-height:32.5px"><span style="top:0.9px">B</span></div>
<div class="tc b" style="left:1225.8px;top:260.0px;width:340.2px;height:32.5px;line-height:32.5px"><span style="top:0.9px">&lt; 15 per day</span></div>
<div class="tc h" style="left:847.5px;top:294.2px;width:245.0px;height:32.8px;line-height:32.8px"><span style="top:0.9px">99% ≤ x 90%</span></div>
<div class="tc a" style="left:1094.2px;top:294.2px;width:129.8px;height:32.8px;line-height:32.8px"><span style="top:0.9px">C</span></div>
<div class="tc a" style="left:1225.8px;top:294.2px;width:340.2px;height:32.8px;line-height:32.8px"><span style="top:0.9px">&lt; 150 per day</span></div>
<div class="tc h" style="left:847.5px;top:328.8px;width:245.0px;height:32.7px;line-height:32.7px"><span style="top:0.9px">Other</span></div>
<div class="tc b" style="left:1094.2px;top:328.8px;width:129.8px;height:32.7px;line-height:32.7px"><span style="top:0.9px">D</span></div>
<div class="tc b" style="left:1225.8px;top:328.8px;width:340.2px;height:32.7px;line-height:32.7px"><span style="top:0.9px">more than 150</span></div>
<div class="abs" id="pg">7</div><div class="abs" id="pgu"></div>

</body></html>
